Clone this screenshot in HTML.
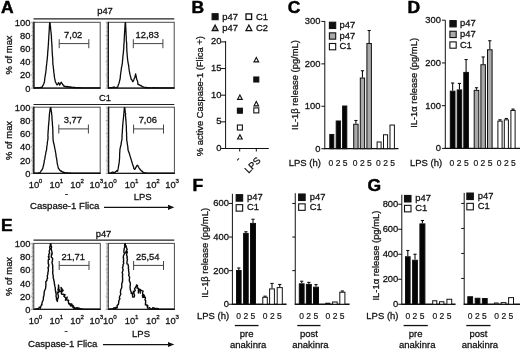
<!DOCTYPE html>
<html><head><meta charset="utf-8"><title>Figure</title>
<style>
html,body{margin:0;padding:0;background:#fff;}
body{width:520px;height:352px;overflow:hidden;font-family:"Liberation Sans",sans-serif;}
svg{display:block;will-change:transform;filter:blur(0.35px);}
svg text{font-family:"Liberation Sans",sans-serif;}
</style></head><body>
<svg width="520" height="352" viewBox="0 0 520 352">
<rect width="520" height="352" fill="#fff"/>
<rect x="33.9" y="22.3" width="66.30000000000001" height="65.8" fill="none" stroke="#4a4a4a" stroke-width="1"/>
<line x1="33.4" y1="88.1" x2="100.7" y2="88.1" stroke="#1a1a1a" stroke-width="1.1"/>
<line x1="33.9" y1="21.8" x2="33.9" y2="88.6" stroke="#111" stroke-width="1.25"/>
<line x1="31.099999999999998" y1="88.1" x2="33.9" y2="88.1" stroke="#333" stroke-width="0.5"/>
<line x1="31.9" y1="86.78399999999999" x2="33.9" y2="86.78399999999999" stroke="#333" stroke-width="0.5"/>
<line x1="31.9" y1="85.46799999999999" x2="33.9" y2="85.46799999999999" stroke="#333" stroke-width="0.5"/>
<line x1="31.9" y1="84.152" x2="33.9" y2="84.152" stroke="#333" stroke-width="0.5"/>
<line x1="31.9" y1="82.836" x2="33.9" y2="82.836" stroke="#333" stroke-width="0.5"/>
<line x1="31.9" y1="81.52" x2="33.9" y2="81.52" stroke="#333" stroke-width="0.5"/>
<line x1="31.9" y1="80.204" x2="33.9" y2="80.204" stroke="#333" stroke-width="0.5"/>
<line x1="31.9" y1="78.88799999999999" x2="33.9" y2="78.88799999999999" stroke="#333" stroke-width="0.5"/>
<line x1="31.9" y1="77.572" x2="33.9" y2="77.572" stroke="#333" stroke-width="0.5"/>
<line x1="31.9" y1="76.256" x2="33.9" y2="76.256" stroke="#333" stroke-width="0.5"/>
<line x1="31.099999999999998" y1="74.94" x2="33.9" y2="74.94" stroke="#333" stroke-width="0.5"/>
<line x1="31.9" y1="73.624" x2="33.9" y2="73.624" stroke="#333" stroke-width="0.5"/>
<line x1="31.9" y1="72.30799999999999" x2="33.9" y2="72.30799999999999" stroke="#333" stroke-width="0.5"/>
<line x1="31.9" y1="70.99199999999999" x2="33.9" y2="70.99199999999999" stroke="#333" stroke-width="0.5"/>
<line x1="31.9" y1="69.67599999999999" x2="33.9" y2="69.67599999999999" stroke="#333" stroke-width="0.5"/>
<line x1="31.9" y1="68.36" x2="33.9" y2="68.36" stroke="#333" stroke-width="0.5"/>
<line x1="31.9" y1="67.044" x2="33.9" y2="67.044" stroke="#333" stroke-width="0.5"/>
<line x1="31.9" y1="65.728" x2="33.9" y2="65.728" stroke="#333" stroke-width="0.5"/>
<line x1="31.9" y1="64.41199999999999" x2="33.9" y2="64.41199999999999" stroke="#333" stroke-width="0.5"/>
<line x1="31.9" y1="63.09599999999999" x2="33.9" y2="63.09599999999999" stroke="#333" stroke-width="0.5"/>
<line x1="31.099999999999998" y1="61.779999999999994" x2="33.9" y2="61.779999999999994" stroke="#333" stroke-width="0.5"/>
<line x1="31.9" y1="60.464" x2="33.9" y2="60.464" stroke="#333" stroke-width="0.5"/>
<line x1="31.9" y1="59.147999999999996" x2="33.9" y2="59.147999999999996" stroke="#333" stroke-width="0.5"/>
<line x1="31.9" y1="57.831999999999994" x2="33.9" y2="57.831999999999994" stroke="#333" stroke-width="0.5"/>
<line x1="31.9" y1="56.516" x2="33.9" y2="56.516" stroke="#333" stroke-width="0.5"/>
<line x1="31.9" y1="55.199999999999996" x2="33.9" y2="55.199999999999996" stroke="#333" stroke-width="0.5"/>
<line x1="31.9" y1="53.88399999999999" x2="33.9" y2="53.88399999999999" stroke="#333" stroke-width="0.5"/>
<line x1="31.9" y1="52.568" x2="33.9" y2="52.568" stroke="#333" stroke-width="0.5"/>
<line x1="31.9" y1="51.251999999999995" x2="33.9" y2="51.251999999999995" stroke="#333" stroke-width="0.5"/>
<line x1="31.9" y1="49.936" x2="33.9" y2="49.936" stroke="#333" stroke-width="0.5"/>
<line x1="31.099999999999998" y1="48.62" x2="33.9" y2="48.62" stroke="#333" stroke-width="0.5"/>
<line x1="31.9" y1="47.303999999999995" x2="33.9" y2="47.303999999999995" stroke="#333" stroke-width="0.5"/>
<line x1="31.9" y1="45.988" x2="33.9" y2="45.988" stroke="#333" stroke-width="0.5"/>
<line x1="31.9" y1="44.67199999999999" x2="33.9" y2="44.67199999999999" stroke="#333" stroke-width="0.5"/>
<line x1="31.9" y1="43.355999999999995" x2="33.9" y2="43.355999999999995" stroke="#333" stroke-width="0.5"/>
<line x1="31.9" y1="42.03999999999999" x2="33.9" y2="42.03999999999999" stroke="#333" stroke-width="0.5"/>
<line x1="31.9" y1="40.724" x2="33.9" y2="40.724" stroke="#333" stroke-width="0.5"/>
<line x1="31.9" y1="39.407999999999994" x2="33.9" y2="39.407999999999994" stroke="#333" stroke-width="0.5"/>
<line x1="31.9" y1="38.09199999999999" x2="33.9" y2="38.09199999999999" stroke="#333" stroke-width="0.5"/>
<line x1="31.9" y1="36.775999999999996" x2="33.9" y2="36.775999999999996" stroke="#333" stroke-width="0.5"/>
<line x1="31.099999999999998" y1="35.459999999999994" x2="33.9" y2="35.459999999999994" stroke="#333" stroke-width="0.5"/>
<line x1="31.9" y1="34.144" x2="33.9" y2="34.144" stroke="#333" stroke-width="0.5"/>
<line x1="31.9" y1="32.827999999999996" x2="33.9" y2="32.827999999999996" stroke="#333" stroke-width="0.5"/>
<line x1="31.9" y1="31.511999999999993" x2="33.9" y2="31.511999999999993" stroke="#333" stroke-width="0.5"/>
<line x1="31.9" y1="30.195999999999998" x2="33.9" y2="30.195999999999998" stroke="#333" stroke-width="0.5"/>
<line x1="31.9" y1="28.879999999999995" x2="33.9" y2="28.879999999999995" stroke="#333" stroke-width="0.5"/>
<line x1="31.9" y1="27.564" x2="33.9" y2="27.564" stroke="#333" stroke-width="0.5"/>
<line x1="31.9" y1="26.247999999999998" x2="33.9" y2="26.247999999999998" stroke="#333" stroke-width="0.5"/>
<line x1="31.9" y1="24.932000000000002" x2="33.9" y2="24.932000000000002" stroke="#333" stroke-width="0.5"/>
<line x1="31.9" y1="23.616" x2="33.9" y2="23.616" stroke="#333" stroke-width="0.5"/>
<line x1="31.099999999999998" y1="22.299999999999997" x2="33.9" y2="22.299999999999997" stroke="#333" stroke-width="0.5"/>
<polyline points="34.00,87.80 34.38,87.78 34.74,87.80 35.12,87.78 35.51,87.79 35.85,87.71 36.25,87.83 36.59,87.81 37.02,87.74 37.42,87.67 37.70,87.86 38.13,87.57 38.48,87.89 38.86,87.60 39.21,87.51 39.62,87.68 39.95,87.57 40.41,87.47 40.76,87.40 41.27,87.55 41.63,87.36 42.15,87.40 42.49,86.13 42.98,85.51 43.35,84.73 43.81,83.78 44.22,82.58 44.52,81.30 44.70,79.45 44.87,77.54 45.15,76.36 45.42,74.36 45.69,73.05 45.89,71.22 46.12,69.73 46.21,68.16 46.31,66.56 46.60,64.76 46.75,63.65 46.85,61.78 47.14,60.26 47.24,58.79 47.36,57.24 47.57,55.65 47.62,54.22 47.74,52.64 47.78,51.46 48.00,49.94 48.10,48.52 48.18,47.03 48.28,45.48 48.45,43.82 48.45,42.54 48.57,41.03 48.64,39.50 48.76,38.07 48.82,36.60 48.89,34.98 49.01,33.54 49.10,32.18 49.19,30.67 49.27,29.11 49.33,27.67 49.42,26.14 49.51,24.69 49.60,23.20 50.00,22.60 50.18,23.91 50.21,25.41 50.51,26.59 50.57,28.24 50.80,30.40 50.97,31.65 51.11,33.06 51.23,34.95 51.47,36.31 51.40,38.10 51.61,39.70 51.53,40.89 51.76,42.52 51.83,44.07 51.88,45.93 52.05,47.20 52.04,49.09 52.15,50.29 52.22,51.94 52.33,53.46 52.36,54.88 52.58,57.00 52.68,58.17 52.79,59.74 52.78,61.57 52.80,62.85 52.96,64.83 53.32,66.39 53.31,67.84 53.64,69.62 53.70,71.12 53.85,72.43 54.10,73.82 54.18,75.46 54.45,76.76 54.60,78.38 55.08,80.05 55.30,82.04 55.81,82.42 56.36,83.69 56.96,84.94 57.43,84.48 57.72,84.02 58.16,83.41 58.60,82.59 58.91,83.26 59.18,84.01 59.56,85.16 60.04,84.37 60.43,83.67 60.83,82.66 61.32,82.22 61.81,83.14 62.18,83.51 62.50,84.36 63.08,84.77 63.47,85.62 63.82,85.78 64.17,86.47 64.52,86.40 64.91,86.16 65.35,86.73 65.71,86.81 66.17,86.46 66.37,86.88 66.76,86.83 67.33,86.52 67.56,86.52 67.98,87.24 68.28,86.67 68.79,86.80 69.19,86.74 69.56,86.96 69.77,87.35 70.18,86.96 70.58,86.90 70.80,86.90 71.23,87.53 71.63,87.32 71.91,87.19 72.48,87.58 72.69,87.64 73.18,87.23 73.55,87.70 73.95,87.56 74.32,87.35 74.64,87.41 75.04,87.32 75.45,87.83 75.87,87.69 76.21,87.87 76.58,87.57 77.06,87.61 77.34,87.90 77.74,87.64 78.12,87.77 78.40,87.63 78.78,87.64 79.15,87.78 79.60,87.61 79.99,87.71 80.36,87.79 80.68,87.69 81.00,87.90 81.39,87.90 81.84,87.90 82.14,87.90 82.53,87.75 82.88,87.90 83.23,87.90 83.60,87.90 84.03,87.86 84.39,87.90 84.74,87.90 85.07,87.90 85.43,87.89 85.83,87.90 86.16,87.86 86.56,87.90 86.91,87.90 87.27,87.90 87.63,87.88 87.98,87.86 88.36,87.90 88.71,87.90 89.07,87.88 89.44,87.85 89.81,87.90 90.19,87.89 90.53,87.87 90.91,87.90 91.27,87.90 91.64,87.90 92.00,87.87 92.35,87.90 92.73,87.89 93.10,87.90 93.46,87.88 93.81,87.87 94.19,87.90 94.55,87.88 94.90,87.90 95.28,87.90 95.64,87.89 96.00,87.90 96.37,87.90 96.73,87.90 97.09,87.89 97.46,87.89 97.81,87.90 98.18,87.90 98.55,87.90 98.91,87.90 99.27,87.90 99.64,87.90 100.00,87.90" fill="none" stroke="#0a0a0a" stroke-width="1.3" stroke-linejoin="round"/>
<line x1="59.2" y1="43.6" x2="88.8" y2="43.6" stroke="#444" stroke-width="1"/>
<line x1="59.2" y1="39.2" x2="59.2" y2="48.2" stroke="#444" stroke-width="1"/>
<line x1="88.8" y1="39.2" x2="88.8" y2="48.2" stroke="#444" stroke-width="1"/>
<text transform="translate(73.2 38.0)" font-size="9.4" text-anchor="middle" fill="#111" stroke="#111" stroke-width="0.28" >7,02</text>
<text transform="translate(30.5 91.6)" font-size="9.4" text-anchor="end" fill="#111" stroke="#111" stroke-width="0.28" >0</text>
<text transform="translate(30.5 78.44)" font-size="9.4" text-anchor="end" fill="#111" stroke="#111" stroke-width="0.28" >20</text>
<text transform="translate(30.5 65.28)" font-size="9.4" text-anchor="end" fill="#111" stroke="#111" stroke-width="0.28" >40</text>
<text transform="translate(30.5 52.12)" font-size="9.4" text-anchor="end" fill="#111" stroke="#111" stroke-width="0.28" >60</text>
<text transform="translate(30.5 38.959999999999994)" font-size="9.4" text-anchor="end" fill="#111" stroke="#111" stroke-width="0.28" >80</text>
<text transform="translate(30.5 25.799999999999997)" font-size="9.4" text-anchor="end" fill="#111" stroke="#111" stroke-width="0.28" >100</text>
<rect x="108.4" y="22.3" width="65.79999999999998" height="65.8" fill="none" stroke="#4a4a4a" stroke-width="1"/>
<line x1="107.9" y1="88.1" x2="174.7" y2="88.1" stroke="#1a1a1a" stroke-width="1.1"/>
<line x1="108.4" y1="21.8" x2="108.4" y2="88.6" stroke="#111" stroke-width="1.25"/>
<line x1="105.60000000000001" y1="88.1" x2="108.4" y2="88.1" stroke="#333" stroke-width="0.5"/>
<line x1="106.4" y1="86.78399999999999" x2="108.4" y2="86.78399999999999" stroke="#333" stroke-width="0.5"/>
<line x1="106.4" y1="85.46799999999999" x2="108.4" y2="85.46799999999999" stroke="#333" stroke-width="0.5"/>
<line x1="106.4" y1="84.152" x2="108.4" y2="84.152" stroke="#333" stroke-width="0.5"/>
<line x1="106.4" y1="82.836" x2="108.4" y2="82.836" stroke="#333" stroke-width="0.5"/>
<line x1="106.4" y1="81.52" x2="108.4" y2="81.52" stroke="#333" stroke-width="0.5"/>
<line x1="106.4" y1="80.204" x2="108.4" y2="80.204" stroke="#333" stroke-width="0.5"/>
<line x1="106.4" y1="78.88799999999999" x2="108.4" y2="78.88799999999999" stroke="#333" stroke-width="0.5"/>
<line x1="106.4" y1="77.572" x2="108.4" y2="77.572" stroke="#333" stroke-width="0.5"/>
<line x1="106.4" y1="76.256" x2="108.4" y2="76.256" stroke="#333" stroke-width="0.5"/>
<line x1="105.60000000000001" y1="74.94" x2="108.4" y2="74.94" stroke="#333" stroke-width="0.5"/>
<line x1="106.4" y1="73.624" x2="108.4" y2="73.624" stroke="#333" stroke-width="0.5"/>
<line x1="106.4" y1="72.30799999999999" x2="108.4" y2="72.30799999999999" stroke="#333" stroke-width="0.5"/>
<line x1="106.4" y1="70.99199999999999" x2="108.4" y2="70.99199999999999" stroke="#333" stroke-width="0.5"/>
<line x1="106.4" y1="69.67599999999999" x2="108.4" y2="69.67599999999999" stroke="#333" stroke-width="0.5"/>
<line x1="106.4" y1="68.36" x2="108.4" y2="68.36" stroke="#333" stroke-width="0.5"/>
<line x1="106.4" y1="67.044" x2="108.4" y2="67.044" stroke="#333" stroke-width="0.5"/>
<line x1="106.4" y1="65.728" x2="108.4" y2="65.728" stroke="#333" stroke-width="0.5"/>
<line x1="106.4" y1="64.41199999999999" x2="108.4" y2="64.41199999999999" stroke="#333" stroke-width="0.5"/>
<line x1="106.4" y1="63.09599999999999" x2="108.4" y2="63.09599999999999" stroke="#333" stroke-width="0.5"/>
<line x1="105.60000000000001" y1="61.779999999999994" x2="108.4" y2="61.779999999999994" stroke="#333" stroke-width="0.5"/>
<line x1="106.4" y1="60.464" x2="108.4" y2="60.464" stroke="#333" stroke-width="0.5"/>
<line x1="106.4" y1="59.147999999999996" x2="108.4" y2="59.147999999999996" stroke="#333" stroke-width="0.5"/>
<line x1="106.4" y1="57.831999999999994" x2="108.4" y2="57.831999999999994" stroke="#333" stroke-width="0.5"/>
<line x1="106.4" y1="56.516" x2="108.4" y2="56.516" stroke="#333" stroke-width="0.5"/>
<line x1="106.4" y1="55.199999999999996" x2="108.4" y2="55.199999999999996" stroke="#333" stroke-width="0.5"/>
<line x1="106.4" y1="53.88399999999999" x2="108.4" y2="53.88399999999999" stroke="#333" stroke-width="0.5"/>
<line x1="106.4" y1="52.568" x2="108.4" y2="52.568" stroke="#333" stroke-width="0.5"/>
<line x1="106.4" y1="51.251999999999995" x2="108.4" y2="51.251999999999995" stroke="#333" stroke-width="0.5"/>
<line x1="106.4" y1="49.936" x2="108.4" y2="49.936" stroke="#333" stroke-width="0.5"/>
<line x1="105.60000000000001" y1="48.62" x2="108.4" y2="48.62" stroke="#333" stroke-width="0.5"/>
<line x1="106.4" y1="47.303999999999995" x2="108.4" y2="47.303999999999995" stroke="#333" stroke-width="0.5"/>
<line x1="106.4" y1="45.988" x2="108.4" y2="45.988" stroke="#333" stroke-width="0.5"/>
<line x1="106.4" y1="44.67199999999999" x2="108.4" y2="44.67199999999999" stroke="#333" stroke-width="0.5"/>
<line x1="106.4" y1="43.355999999999995" x2="108.4" y2="43.355999999999995" stroke="#333" stroke-width="0.5"/>
<line x1="106.4" y1="42.03999999999999" x2="108.4" y2="42.03999999999999" stroke="#333" stroke-width="0.5"/>
<line x1="106.4" y1="40.724" x2="108.4" y2="40.724" stroke="#333" stroke-width="0.5"/>
<line x1="106.4" y1="39.407999999999994" x2="108.4" y2="39.407999999999994" stroke="#333" stroke-width="0.5"/>
<line x1="106.4" y1="38.09199999999999" x2="108.4" y2="38.09199999999999" stroke="#333" stroke-width="0.5"/>
<line x1="106.4" y1="36.775999999999996" x2="108.4" y2="36.775999999999996" stroke="#333" stroke-width="0.5"/>
<line x1="105.60000000000001" y1="35.459999999999994" x2="108.4" y2="35.459999999999994" stroke="#333" stroke-width="0.5"/>
<line x1="106.4" y1="34.144" x2="108.4" y2="34.144" stroke="#333" stroke-width="0.5"/>
<line x1="106.4" y1="32.827999999999996" x2="108.4" y2="32.827999999999996" stroke="#333" stroke-width="0.5"/>
<line x1="106.4" y1="31.511999999999993" x2="108.4" y2="31.511999999999993" stroke="#333" stroke-width="0.5"/>
<line x1="106.4" y1="30.195999999999998" x2="108.4" y2="30.195999999999998" stroke="#333" stroke-width="0.5"/>
<line x1="106.4" y1="28.879999999999995" x2="108.4" y2="28.879999999999995" stroke="#333" stroke-width="0.5"/>
<line x1="106.4" y1="27.564" x2="108.4" y2="27.564" stroke="#333" stroke-width="0.5"/>
<line x1="106.4" y1="26.247999999999998" x2="108.4" y2="26.247999999999998" stroke="#333" stroke-width="0.5"/>
<line x1="106.4" y1="24.932000000000002" x2="108.4" y2="24.932000000000002" stroke="#333" stroke-width="0.5"/>
<line x1="106.4" y1="23.616" x2="108.4" y2="23.616" stroke="#333" stroke-width="0.5"/>
<line x1="105.60000000000001" y1="22.299999999999997" x2="108.4" y2="22.299999999999997" stroke="#333" stroke-width="0.5"/>
<polyline points="108.50,87.80 108.88,87.80 109.24,87.74 109.63,87.78 109.99,87.76 110.38,87.73 110.73,87.72 111.12,87.67 111.55,87.73 111.88,87.78 112.22,87.61 112.56,87.45 112.97,87.59 113.55,87.20 114.01,86.91 114.33,87.03 114.75,87.30 115.27,87.60 115.54,87.60 116.01,87.62 116.41,87.49 116.77,87.44 117.18,87.21 117.45,87.38 117.91,86.26 118.26,85.08 118.71,84.04 119.07,83.00 119.45,81.41 119.73,80.24 120.19,78.54 120.28,77.13 120.43,75.33 120.59,74.12 120.79,72.74 120.99,71.25 121.26,69.77 121.40,68.00 121.82,66.18 122.16,64.12 122.42,62.63 122.45,61.09 122.70,59.59 122.78,58.05 122.92,56.41 123.10,54.79 123.34,53.05 123.45,51.42 123.56,50.14 123.74,48.34 123.81,46.88 123.85,45.18 123.99,43.69 124.12,42.11 124.18,40.54 124.20,38.99 124.28,37.76 124.44,35.96 124.45,34.50 124.55,33.20 124.67,31.36 124.80,30.06 124.84,28.45 124.94,26.98 125.04,25.60 125.12,24.11 125.20,22.60 125.50,22.60 125.61,24.15 125.66,25.55 125.76,27.14 125.89,28.20 125.87,30.37 126.03,31.62 126.01,33.09 126.11,35.03 126.22,36.25 126.32,37.28 126.24,38.94 126.34,40.40 126.53,42.00 126.68,43.85 126.74,45.69 126.66,46.75 126.76,48.30 126.86,50.07 126.90,51.79 127.11,53.29 127.15,54.70 127.32,56.61 127.50,58.47 127.63,59.76 127.87,61.34 128.14,63.01 128.40,64.39 128.69,65.83 128.90,67.90 129.10,69.21 129.26,70.92 129.61,72.45 129.86,73.81 130.27,75.68 130.74,77.01 130.96,78.57 131.35,79.51 131.80,79.57 132.09,80.31 132.57,81.56 132.89,81.61 133.36,80.92 133.87,79.69 134.21,78.49 134.90,77.26 135.25,75.40 135.62,73.95 136.09,76.24 136.56,78.80 136.83,79.51 137.47,80.93 137.87,82.90 137.97,84.35 138.54,84.50 138.82,84.73 139.18,84.61 139.49,85.14 139.91,85.10 140.36,85.61 140.73,85.77 140.92,85.44 141.34,85.85 141.85,86.06 142.22,86.67 142.50,86.85 143.11,86.79 143.38,86.92 143.71,87.14 144.26,87.65 144.46,87.53 144.84,87.36 145.29,87.58 145.63,87.49 146.00,87.35 146.40,87.78 146.72,87.40 147.04,87.71 147.44,87.80 147.80,87.74 148.21,87.87 148.50,87.73 148.85,87.71 149.32,87.78 149.64,87.67 149.99,87.79 150.41,87.86 150.72,87.86 151.07,87.90 151.47,87.88 151.85,87.88 152.19,87.73 152.56,87.78 152.92,87.90 153.27,87.69 153.67,87.87 154.03,87.85 154.40,87.70 154.74,87.87 155.12,87.90 155.48,87.73 155.79,87.88 156.19,87.88 156.57,87.76 156.92,87.75 157.25,87.82 157.63,87.85 158.03,87.77 158.33,87.75 158.75,87.83 159.11,87.87 159.47,87.84 159.80,87.81 160.15,87.84 160.56,87.77 160.92,87.79 161.27,87.89 161.65,87.88 161.98,87.90 162.36,87.80 162.72,87.85 163.09,87.79 163.45,87.90 163.81,87.86 164.20,87.85 164.55,87.84 164.91,87.86 165.26,87.90 165.63,87.90 166.01,87.88 166.36,87.88 166.71,87.90 167.09,87.88 167.46,87.88 167.82,87.90 168.18,87.86 168.54,87.87 168.92,87.86 169.28,87.86 169.63,87.88 169.99,87.87 170.36,87.88 170.72,87.88 171.10,87.90 171.46,87.89 171.82,87.90 172.18,87.88 172.55,87.89 172.91,87.89 173.27,87.90 173.64,87.90 174.00,87.90" fill="none" stroke="#0a0a0a" stroke-width="1.3" stroke-linejoin="round"/>
<line x1="133.3" y1="43.6" x2="162.9" y2="43.6" stroke="#444" stroke-width="1"/>
<line x1="133.3" y1="39.2" x2="133.3" y2="48.2" stroke="#444" stroke-width="1"/>
<line x1="162.9" y1="39.2" x2="162.9" y2="48.2" stroke="#444" stroke-width="1"/>
<text transform="translate(147.3 38.0)" font-size="9.4" text-anchor="middle" fill="#111" stroke="#111" stroke-width="0.28" >12,83</text>
<rect x="33.8" y="107.2" width="66.4" height="66.2" fill="none" stroke="#4a4a4a" stroke-width="1"/>
<line x1="33.3" y1="173.4" x2="100.7" y2="173.4" stroke="#1a1a1a" stroke-width="1.1"/>
<line x1="33.8" y1="106.7" x2="33.8" y2="173.9" stroke="#111" stroke-width="1.25"/>
<line x1="30.999999999999996" y1="173.4" x2="33.8" y2="173.4" stroke="#333" stroke-width="0.5"/>
<line x1="31.799999999999997" y1="172.076" x2="33.8" y2="172.076" stroke="#333" stroke-width="0.5"/>
<line x1="31.799999999999997" y1="170.752" x2="33.8" y2="170.752" stroke="#333" stroke-width="0.5"/>
<line x1="31.799999999999997" y1="169.428" x2="33.8" y2="169.428" stroke="#333" stroke-width="0.5"/>
<line x1="31.799999999999997" y1="168.104" x2="33.8" y2="168.104" stroke="#333" stroke-width="0.5"/>
<line x1="31.799999999999997" y1="166.78" x2="33.8" y2="166.78" stroke="#333" stroke-width="0.5"/>
<line x1="31.799999999999997" y1="165.45600000000002" x2="33.8" y2="165.45600000000002" stroke="#333" stroke-width="0.5"/>
<line x1="31.799999999999997" y1="164.132" x2="33.8" y2="164.132" stroke="#333" stroke-width="0.5"/>
<line x1="31.799999999999997" y1="162.808" x2="33.8" y2="162.808" stroke="#333" stroke-width="0.5"/>
<line x1="31.799999999999997" y1="161.484" x2="33.8" y2="161.484" stroke="#333" stroke-width="0.5"/>
<line x1="30.999999999999996" y1="160.16" x2="33.8" y2="160.16" stroke="#333" stroke-width="0.5"/>
<line x1="31.799999999999997" y1="158.836" x2="33.8" y2="158.836" stroke="#333" stroke-width="0.5"/>
<line x1="31.799999999999997" y1="157.512" x2="33.8" y2="157.512" stroke="#333" stroke-width="0.5"/>
<line x1="31.799999999999997" y1="156.18800000000002" x2="33.8" y2="156.18800000000002" stroke="#333" stroke-width="0.5"/>
<line x1="31.799999999999997" y1="154.864" x2="33.8" y2="154.864" stroke="#333" stroke-width="0.5"/>
<line x1="31.799999999999997" y1="153.54000000000002" x2="33.8" y2="153.54000000000002" stroke="#333" stroke-width="0.5"/>
<line x1="31.799999999999997" y1="152.216" x2="33.8" y2="152.216" stroke="#333" stroke-width="0.5"/>
<line x1="31.799999999999997" y1="150.892" x2="33.8" y2="150.892" stroke="#333" stroke-width="0.5"/>
<line x1="31.799999999999997" y1="149.568" x2="33.8" y2="149.568" stroke="#333" stroke-width="0.5"/>
<line x1="31.799999999999997" y1="148.244" x2="33.8" y2="148.244" stroke="#333" stroke-width="0.5"/>
<line x1="30.999999999999996" y1="146.92000000000002" x2="33.8" y2="146.92000000000002" stroke="#333" stroke-width="0.5"/>
<line x1="31.799999999999997" y1="145.596" x2="33.8" y2="145.596" stroke="#333" stroke-width="0.5"/>
<line x1="31.799999999999997" y1="144.272" x2="33.8" y2="144.272" stroke="#333" stroke-width="0.5"/>
<line x1="31.799999999999997" y1="142.948" x2="33.8" y2="142.948" stroke="#333" stroke-width="0.5"/>
<line x1="31.799999999999997" y1="141.624" x2="33.8" y2="141.624" stroke="#333" stroke-width="0.5"/>
<line x1="31.799999999999997" y1="140.3" x2="33.8" y2="140.3" stroke="#333" stroke-width="0.5"/>
<line x1="31.799999999999997" y1="138.976" x2="33.8" y2="138.976" stroke="#333" stroke-width="0.5"/>
<line x1="31.799999999999997" y1="137.652" x2="33.8" y2="137.652" stroke="#333" stroke-width="0.5"/>
<line x1="31.799999999999997" y1="136.328" x2="33.8" y2="136.328" stroke="#333" stroke-width="0.5"/>
<line x1="31.799999999999997" y1="135.00400000000002" x2="33.8" y2="135.00400000000002" stroke="#333" stroke-width="0.5"/>
<line x1="30.999999999999996" y1="133.68" x2="33.8" y2="133.68" stroke="#333" stroke-width="0.5"/>
<line x1="31.799999999999997" y1="132.356" x2="33.8" y2="132.356" stroke="#333" stroke-width="0.5"/>
<line x1="31.799999999999997" y1="131.032" x2="33.8" y2="131.032" stroke="#333" stroke-width="0.5"/>
<line x1="31.799999999999997" y1="129.708" x2="33.8" y2="129.708" stroke="#333" stroke-width="0.5"/>
<line x1="31.799999999999997" y1="128.38400000000001" x2="33.8" y2="128.38400000000001" stroke="#333" stroke-width="0.5"/>
<line x1="31.799999999999997" y1="127.06" x2="33.8" y2="127.06" stroke="#333" stroke-width="0.5"/>
<line x1="31.799999999999997" y1="125.73599999999999" x2="33.8" y2="125.73599999999999" stroke="#333" stroke-width="0.5"/>
<line x1="31.799999999999997" y1="124.412" x2="33.8" y2="124.412" stroke="#333" stroke-width="0.5"/>
<line x1="31.799999999999997" y1="123.08800000000001" x2="33.8" y2="123.08800000000001" stroke="#333" stroke-width="0.5"/>
<line x1="31.799999999999997" y1="121.76400000000001" x2="33.8" y2="121.76400000000001" stroke="#333" stroke-width="0.5"/>
<line x1="30.999999999999996" y1="120.44" x2="33.8" y2="120.44" stroke="#333" stroke-width="0.5"/>
<line x1="31.799999999999997" y1="119.116" x2="33.8" y2="119.116" stroke="#333" stroke-width="0.5"/>
<line x1="31.799999999999997" y1="117.792" x2="33.8" y2="117.792" stroke="#333" stroke-width="0.5"/>
<line x1="31.799999999999997" y1="116.46800000000002" x2="33.8" y2="116.46800000000002" stroke="#333" stroke-width="0.5"/>
<line x1="31.799999999999997" y1="115.144" x2="33.8" y2="115.144" stroke="#333" stroke-width="0.5"/>
<line x1="31.799999999999997" y1="113.82000000000001" x2="33.8" y2="113.82000000000001" stroke="#333" stroke-width="0.5"/>
<line x1="31.799999999999997" y1="112.49600000000001" x2="33.8" y2="112.49600000000001" stroke="#333" stroke-width="0.5"/>
<line x1="31.799999999999997" y1="111.172" x2="33.8" y2="111.172" stroke="#333" stroke-width="0.5"/>
<line x1="31.799999999999997" y1="109.848" x2="33.8" y2="109.848" stroke="#333" stroke-width="0.5"/>
<line x1="31.799999999999997" y1="108.524" x2="33.8" y2="108.524" stroke="#333" stroke-width="0.5"/>
<line x1="30.999999999999996" y1="107.2" x2="33.8" y2="107.2" stroke="#333" stroke-width="0.5"/>
<polyline points="34.00,173.20 34.36,173.17 34.73,173.15 35.07,173.16 35.47,173.06 35.80,173.07 36.18,173.20 36.54,173.16 36.87,173.10 37.31,173.08 37.67,173.03 37.94,173.07 38.41,173.02 38.73,172.76 39.20,172.91 39.65,172.77 40.06,172.69 40.45,171.95 40.87,171.37 41.13,170.98 41.55,170.01 41.99,169.85 42.36,169.07 42.78,168.40 43.13,166.73 43.51,165.29 43.82,163.78 44.15,162.30 44.28,160.61 44.76,159.15 44.99,157.60 45.23,155.91 45.62,154.40 45.91,151.97 46.50,150.21 46.70,148.09 46.79,146.61 47.16,144.88 47.24,143.56 47.47,141.74 47.76,140.13 47.96,138.78 48.03,137.10 47.90,135.54 47.95,134.26 48.09,132.57 48.10,131.37 48.31,129.58 48.40,128.29 48.40,127.10 48.56,125.30 48.71,123.87 48.85,122.28 48.95,120.96 49.13,119.12 49.17,117.46 49.34,116.37 49.37,114.57 49.62,112.95 49.88,111.01 50.10,109.43 50.40,107.60 50.80,107.60 51.06,109.44 51.30,111.32 51.68,113.21 51.57,114.08 51.99,116.24 51.95,117.40 52.03,119.24 52.15,120.59 52.35,122.14 52.41,123.64 52.45,125.51 52.73,126.90 52.74,128.29 52.78,130.03 52.86,131.11 52.83,132.87 52.92,134.09 52.97,135.85 52.96,137.31 53.09,138.45 53.09,140.23 53.33,141.34 53.66,143.02 54.11,144.68 54.30,145.81 54.69,147.68 54.94,149.18 55.24,150.28 55.55,152.18 55.82,153.57 56.05,155.29 56.23,157.25 56.63,158.37 56.87,160.56 57.09,161.96 57.29,163.86 57.77,165.35 58.05,166.90 58.37,168.27 58.73,168.72 59.20,169.41 59.56,170.03 60.12,170.56 60.58,171.05 60.93,171.28 61.39,170.96 61.70,171.29 62.17,171.84 62.69,171.91 62.96,172.28 63.46,172.13 63.81,172.38 64.04,172.40 64.56,172.62 64.92,172.49 65.29,173.06 65.50,173.09 66.05,172.99 66.31,172.68 66.73,172.83 67.10,172.93 67.39,173.13 67.79,172.79 68.16,172.84 68.67,173.20 68.99,172.88 69.34,173.00 69.76,173.03 70.10,173.15 70.47,173.01 70.88,173.01 71.23,173.20 71.59,173.05 72.01,173.16 72.35,173.20 72.74,173.20 73.08,173.18 73.47,173.20 73.84,173.18 74.16,173.20 74.56,173.20 74.90,173.10 75.31,173.19 75.62,173.20 76.03,173.20 76.36,173.16 76.75,173.12 77.12,173.20 77.47,173.20 77.82,173.20 78.19,173.13 78.52,173.11 78.87,173.20 79.24,173.14 79.61,173.20 80.03,173.13 80.39,173.15 80.75,173.20 81.10,173.20 81.42,173.20 81.82,173.20 82.16,173.20 82.57,173.20 82.90,173.16 83.29,173.20 83.62,173.20 84.01,173.20 84.36,173.20 84.72,173.20 85.09,173.20 85.45,173.18 85.81,173.20 86.16,173.20 86.56,173.20 86.91,173.20 87.28,173.20 87.62,173.20 88.01,173.20 88.36,173.20 88.74,173.20 89.08,173.20 89.46,173.20 89.81,173.20 90.20,173.20 90.55,173.20 90.92,173.20 91.27,173.20 91.62,173.20 92.00,173.20 92.36,173.20 92.73,173.20 93.10,173.20 93.46,173.20 93.83,173.20 94.18,173.20 94.55,173.20 94.91,173.20 95.28,173.20 95.63,173.20 96.00,173.20 96.37,173.20 96.72,173.20 97.09,173.20 97.46,173.20 97.82,173.20 98.18,173.20 98.55,173.20 98.91,173.20 99.27,173.20 99.64,173.20 100.00,173.20" fill="none" stroke="#0a0a0a" stroke-width="1.3" stroke-linejoin="round"/>
<line x1="58.8" y1="128.9" x2="88.4" y2="128.9" stroke="#444" stroke-width="1"/>
<line x1="58.8" y1="124.5" x2="58.8" y2="133.5" stroke="#444" stroke-width="1"/>
<line x1="88.4" y1="124.5" x2="88.4" y2="133.5" stroke="#444" stroke-width="1"/>
<text transform="translate(72.8 123.30000000000001)" font-size="9.4" text-anchor="middle" fill="#111" stroke="#111" stroke-width="0.28" >3,77</text>
<text transform="translate(30.4 176.9)" font-size="9.4" text-anchor="end" fill="#111" stroke="#111" stroke-width="0.28" >0</text>
<text transform="translate(30.4 163.66)" font-size="9.4" text-anchor="end" fill="#111" stroke="#111" stroke-width="0.28" >20</text>
<text transform="translate(30.4 150.42000000000002)" font-size="9.4" text-anchor="end" fill="#111" stroke="#111" stroke-width="0.28" >40</text>
<text transform="translate(30.4 137.18)" font-size="9.4" text-anchor="end" fill="#111" stroke="#111" stroke-width="0.28" >60</text>
<text transform="translate(30.4 123.94)" font-size="9.4" text-anchor="end" fill="#111" stroke="#111" stroke-width="0.28" >80</text>
<text transform="translate(30.4 110.7)" font-size="9.4" text-anchor="end" fill="#111" stroke="#111" stroke-width="0.28" >100</text>
<text x="28.7" y="187.8" font-size="9.4" fill="#111" stroke="#111" stroke-width="0.28">10<tspan dy="-4.5" dx="-0.3" font-size="6.2">0</tspan></text>
<text x="49.6" y="187.8" font-size="9.4" fill="#111" stroke="#111" stroke-width="0.28">10<tspan dy="-4.5" dx="-0.3" font-size="6.2">1</tspan></text>
<text x="70.3" y="187.8" font-size="9.4" fill="#111" stroke="#111" stroke-width="0.28">10<tspan dy="-4.5" dx="-0.3" font-size="6.2">2</tspan></text>
<text x="89.5" y="187.8" font-size="9.4" fill="#111" stroke="#111" stroke-width="0.28">10<tspan dy="-4.5" dx="-0.3" font-size="6.2">3</tspan></text>
<rect x="108.6" y="107.2" width="65.80000000000001" height="66.2" fill="none" stroke="#4a4a4a" stroke-width="1"/>
<line x1="108.1" y1="173.4" x2="174.9" y2="173.4" stroke="#1a1a1a" stroke-width="1.1"/>
<line x1="108.6" y1="106.7" x2="108.6" y2="173.9" stroke="#111" stroke-width="1.25"/>
<line x1="105.8" y1="173.4" x2="108.6" y2="173.4" stroke="#333" stroke-width="0.5"/>
<line x1="106.6" y1="172.076" x2="108.6" y2="172.076" stroke="#333" stroke-width="0.5"/>
<line x1="106.6" y1="170.752" x2="108.6" y2="170.752" stroke="#333" stroke-width="0.5"/>
<line x1="106.6" y1="169.428" x2="108.6" y2="169.428" stroke="#333" stroke-width="0.5"/>
<line x1="106.6" y1="168.104" x2="108.6" y2="168.104" stroke="#333" stroke-width="0.5"/>
<line x1="106.6" y1="166.78" x2="108.6" y2="166.78" stroke="#333" stroke-width="0.5"/>
<line x1="106.6" y1="165.45600000000002" x2="108.6" y2="165.45600000000002" stroke="#333" stroke-width="0.5"/>
<line x1="106.6" y1="164.132" x2="108.6" y2="164.132" stroke="#333" stroke-width="0.5"/>
<line x1="106.6" y1="162.808" x2="108.6" y2="162.808" stroke="#333" stroke-width="0.5"/>
<line x1="106.6" y1="161.484" x2="108.6" y2="161.484" stroke="#333" stroke-width="0.5"/>
<line x1="105.8" y1="160.16" x2="108.6" y2="160.16" stroke="#333" stroke-width="0.5"/>
<line x1="106.6" y1="158.836" x2="108.6" y2="158.836" stroke="#333" stroke-width="0.5"/>
<line x1="106.6" y1="157.512" x2="108.6" y2="157.512" stroke="#333" stroke-width="0.5"/>
<line x1="106.6" y1="156.18800000000002" x2="108.6" y2="156.18800000000002" stroke="#333" stroke-width="0.5"/>
<line x1="106.6" y1="154.864" x2="108.6" y2="154.864" stroke="#333" stroke-width="0.5"/>
<line x1="106.6" y1="153.54000000000002" x2="108.6" y2="153.54000000000002" stroke="#333" stroke-width="0.5"/>
<line x1="106.6" y1="152.216" x2="108.6" y2="152.216" stroke="#333" stroke-width="0.5"/>
<line x1="106.6" y1="150.892" x2="108.6" y2="150.892" stroke="#333" stroke-width="0.5"/>
<line x1="106.6" y1="149.568" x2="108.6" y2="149.568" stroke="#333" stroke-width="0.5"/>
<line x1="106.6" y1="148.244" x2="108.6" y2="148.244" stroke="#333" stroke-width="0.5"/>
<line x1="105.8" y1="146.92000000000002" x2="108.6" y2="146.92000000000002" stroke="#333" stroke-width="0.5"/>
<line x1="106.6" y1="145.596" x2="108.6" y2="145.596" stroke="#333" stroke-width="0.5"/>
<line x1="106.6" y1="144.272" x2="108.6" y2="144.272" stroke="#333" stroke-width="0.5"/>
<line x1="106.6" y1="142.948" x2="108.6" y2="142.948" stroke="#333" stroke-width="0.5"/>
<line x1="106.6" y1="141.624" x2="108.6" y2="141.624" stroke="#333" stroke-width="0.5"/>
<line x1="106.6" y1="140.3" x2="108.6" y2="140.3" stroke="#333" stroke-width="0.5"/>
<line x1="106.6" y1="138.976" x2="108.6" y2="138.976" stroke="#333" stroke-width="0.5"/>
<line x1="106.6" y1="137.652" x2="108.6" y2="137.652" stroke="#333" stroke-width="0.5"/>
<line x1="106.6" y1="136.328" x2="108.6" y2="136.328" stroke="#333" stroke-width="0.5"/>
<line x1="106.6" y1="135.00400000000002" x2="108.6" y2="135.00400000000002" stroke="#333" stroke-width="0.5"/>
<line x1="105.8" y1="133.68" x2="108.6" y2="133.68" stroke="#333" stroke-width="0.5"/>
<line x1="106.6" y1="132.356" x2="108.6" y2="132.356" stroke="#333" stroke-width="0.5"/>
<line x1="106.6" y1="131.032" x2="108.6" y2="131.032" stroke="#333" stroke-width="0.5"/>
<line x1="106.6" y1="129.708" x2="108.6" y2="129.708" stroke="#333" stroke-width="0.5"/>
<line x1="106.6" y1="128.38400000000001" x2="108.6" y2="128.38400000000001" stroke="#333" stroke-width="0.5"/>
<line x1="106.6" y1="127.06" x2="108.6" y2="127.06" stroke="#333" stroke-width="0.5"/>
<line x1="106.6" y1="125.73599999999999" x2="108.6" y2="125.73599999999999" stroke="#333" stroke-width="0.5"/>
<line x1="106.6" y1="124.412" x2="108.6" y2="124.412" stroke="#333" stroke-width="0.5"/>
<line x1="106.6" y1="123.08800000000001" x2="108.6" y2="123.08800000000001" stroke="#333" stroke-width="0.5"/>
<line x1="106.6" y1="121.76400000000001" x2="108.6" y2="121.76400000000001" stroke="#333" stroke-width="0.5"/>
<line x1="105.8" y1="120.44" x2="108.6" y2="120.44" stroke="#333" stroke-width="0.5"/>
<line x1="106.6" y1="119.116" x2="108.6" y2="119.116" stroke="#333" stroke-width="0.5"/>
<line x1="106.6" y1="117.792" x2="108.6" y2="117.792" stroke="#333" stroke-width="0.5"/>
<line x1="106.6" y1="116.46800000000002" x2="108.6" y2="116.46800000000002" stroke="#333" stroke-width="0.5"/>
<line x1="106.6" y1="115.144" x2="108.6" y2="115.144" stroke="#333" stroke-width="0.5"/>
<line x1="106.6" y1="113.82000000000001" x2="108.6" y2="113.82000000000001" stroke="#333" stroke-width="0.5"/>
<line x1="106.6" y1="112.49600000000001" x2="108.6" y2="112.49600000000001" stroke="#333" stroke-width="0.5"/>
<line x1="106.6" y1="111.172" x2="108.6" y2="111.172" stroke="#333" stroke-width="0.5"/>
<line x1="106.6" y1="109.848" x2="108.6" y2="109.848" stroke="#333" stroke-width="0.5"/>
<line x1="106.6" y1="108.524" x2="108.6" y2="108.524" stroke="#333" stroke-width="0.5"/>
<line x1="105.8" y1="107.2" x2="108.6" y2="107.2" stroke="#333" stroke-width="0.5"/>
<polyline points="108.60,173.20 108.91,173.15 109.32,173.12 109.74,173.01 110.19,173.18 110.55,173.12 110.97,173.01 111.31,172.60 111.82,172.36 112.18,172.43 112.44,172.18 112.92,172.01 113.36,172.36 113.63,172.54 114.13,172.53 114.45,172.60 114.82,172.26 115.33,172.14 115.62,171.62 116.05,171.48 116.49,171.15 116.78,170.61 117.19,171.05 117.57,171.26 117.82,170.06 118.23,168.13 118.51,166.49 118.77,164.83 119.04,163.37 119.34,161.25 119.42,159.77 119.59,157.98 119.63,156.35 119.60,155.09 119.70,152.97 119.85,151.77 119.86,149.84 120.21,148.14 120.57,146.39 120.95,145.24 121.26,143.47 121.44,141.38 121.86,140.28 121.99,138.45 122.06,137.07 122.04,135.39 122.13,133.97 122.38,132.44 122.32,130.92 122.45,129.29 122.58,128.12 122.64,126.41 122.79,125.19 122.88,123.44 123.03,121.95 123.16,120.70 123.33,119.08 123.51,117.69 123.60,116.22 123.73,114.90 123.87,113.47 124.00,111.92 124.13,110.47 124.27,109.04 124.40,107.60 124.80,107.60 124.97,109.30 125.10,110.52 125.23,112.17 125.66,113.68 125.42,115.17 125.72,117.58 125.77,119.18 125.95,120.63 126.07,122.08 126.00,123.42 126.28,124.83 126.35,126.74 126.35,127.90 126.41,129.68 126.45,131.19 126.54,132.59 126.65,133.86 126.53,135.77 126.78,137.28 126.64,138.60 126.72,140.24 127.07,141.95 127.20,143.07 127.51,145.08 127.82,146.81 127.86,148.16 128.10,150.25 128.59,151.63 129.19,152.99 129.61,154.43 129.96,155.85 130.40,157.14 130.92,158.70 131.29,159.86 131.60,161.02 132.06,162.54 132.46,163.89 132.77,164.63 133.17,166.19 133.60,166.92 133.81,168.60 134.24,168.76 134.58,169.28 135.00,169.19 135.31,168.84 135.91,167.11 136.30,166.89 136.78,165.91 136.90,165.67 137.31,165.21 137.90,165.60 138.30,166.56 138.73,167.17 138.88,167.70 139.35,168.53 139.93,169.09 140.05,169.75 140.61,169.93 141.06,170.59 141.29,170.89 141.89,171.01 142.27,171.40 142.63,172.13 143.03,172.22 143.49,172.28 143.89,172.68 144.26,172.63 144.59,172.95 144.88,172.81 145.30,173.01 145.65,173.00 146.04,172.79 146.43,173.14 146.84,173.20 147.22,173.14 147.57,173.19 148.05,173.17 148.38,173.11 148.70,173.15 149.04,173.07 149.48,173.20 149.84,173.20 150.13,173.20 150.53,173.20 150.93,173.20 151.29,173.20 151.62,173.11 151.99,173.20 152.36,173.20 152.73,173.17 153.06,173.20 153.43,173.20 153.76,173.18 154.15,173.18 154.53,173.20 154.85,173.20 155.21,173.20 155.55,173.20 155.95,173.16 156.31,173.20 156.70,173.20 157.00,173.20 157.42,173.15 157.78,173.20 158.10,173.20 158.46,173.17 158.86,173.19 159.21,173.20 159.54,173.19 159.94,173.20 160.29,173.19 160.64,173.20 160.99,173.20 161.34,173.20 161.70,173.20 162.07,173.20 162.47,173.20 162.82,173.20 163.18,173.20 163.55,173.20 163.90,173.20 164.26,173.20 164.61,173.20 164.96,173.20 165.33,173.20 165.68,173.20 166.05,173.20 166.42,173.20 166.77,173.20 167.14,173.20 167.51,173.20 167.87,173.20 168.21,173.20 168.59,173.20 168.95,173.20 169.31,173.20 169.67,173.20 170.03,173.20 170.40,173.20 170.75,173.20 171.11,173.20 171.47,173.20 171.83,173.20 172.20,173.20 172.55,173.20 172.92,173.20 173.28,173.20 173.64,173.20 174.00,173.20" fill="none" stroke="#0a0a0a" stroke-width="1.3" stroke-linejoin="round"/>
<line x1="133.6" y1="128.9" x2="163.5" y2="128.9" stroke="#444" stroke-width="1"/>
<line x1="133.6" y1="124.5" x2="133.6" y2="133.5" stroke="#444" stroke-width="1"/>
<line x1="163.5" y1="124.5" x2="163.5" y2="133.5" stroke="#444" stroke-width="1"/>
<text transform="translate(147.75 123.30000000000001)" font-size="9.4" text-anchor="middle" fill="#111" stroke="#111" stroke-width="0.28" >7,06</text>
<text x="103.1" y="187.8" font-size="9.4" fill="#111" stroke="#111" stroke-width="0.28">10<tspan dy="-4.5" dx="-0.3" font-size="6.2">0</tspan></text>
<text x="124.8" y="187.8" font-size="9.4" fill="#111" stroke="#111" stroke-width="0.28">10<tspan dy="-4.5" dx="-0.3" font-size="6.2">1</tspan></text>
<text x="146.0" y="187.8" font-size="9.4" fill="#111" stroke="#111" stroke-width="0.28">10<tspan dy="-4.5" dx="-0.3" font-size="6.2">2</tspan></text>
<text x="165.3" y="187.8" font-size="9.4" fill="#111" stroke="#111" stroke-width="0.28">10<tspan dy="-4.5" dx="-0.3" font-size="6.2">3</tspan></text>
<rect x="33.8" y="243.4" width="66.5" height="65.99999999999997" fill="none" stroke="#4a4a4a" stroke-width="1"/>
<line x1="33.3" y1="309.4" x2="100.8" y2="309.4" stroke="#1a1a1a" stroke-width="1.1"/>
<line x1="30.999999999999996" y1="309.4" x2="33.8" y2="309.4" stroke="#333" stroke-width="0.5"/>
<line x1="31.799999999999997" y1="308.08" x2="33.8" y2="308.08" stroke="#333" stroke-width="0.5"/>
<line x1="31.799999999999997" y1="306.76" x2="33.8" y2="306.76" stroke="#333" stroke-width="0.5"/>
<line x1="31.799999999999997" y1="305.44" x2="33.8" y2="305.44" stroke="#333" stroke-width="0.5"/>
<line x1="31.799999999999997" y1="304.12" x2="33.8" y2="304.12" stroke="#333" stroke-width="0.5"/>
<line x1="31.799999999999997" y1="302.79999999999995" x2="33.8" y2="302.79999999999995" stroke="#333" stroke-width="0.5"/>
<line x1="31.799999999999997" y1="301.47999999999996" x2="33.8" y2="301.47999999999996" stroke="#333" stroke-width="0.5"/>
<line x1="31.799999999999997" y1="300.15999999999997" x2="33.8" y2="300.15999999999997" stroke="#333" stroke-width="0.5"/>
<line x1="31.799999999999997" y1="298.84" x2="33.8" y2="298.84" stroke="#333" stroke-width="0.5"/>
<line x1="31.799999999999997" y1="297.52" x2="33.8" y2="297.52" stroke="#333" stroke-width="0.5"/>
<line x1="30.999999999999996" y1="296.2" x2="33.8" y2="296.2" stroke="#333" stroke-width="0.5"/>
<line x1="31.799999999999997" y1="294.88" x2="33.8" y2="294.88" stroke="#333" stroke-width="0.5"/>
<line x1="31.799999999999997" y1="293.56" x2="33.8" y2="293.56" stroke="#333" stroke-width="0.5"/>
<line x1="31.799999999999997" y1="292.24" x2="33.8" y2="292.24" stroke="#333" stroke-width="0.5"/>
<line x1="31.799999999999997" y1="290.91999999999996" x2="33.8" y2="290.91999999999996" stroke="#333" stroke-width="0.5"/>
<line x1="31.799999999999997" y1="289.59999999999997" x2="33.8" y2="289.59999999999997" stroke="#333" stroke-width="0.5"/>
<line x1="31.799999999999997" y1="288.28" x2="33.8" y2="288.28" stroke="#333" stroke-width="0.5"/>
<line x1="31.799999999999997" y1="286.96" x2="33.8" y2="286.96" stroke="#333" stroke-width="0.5"/>
<line x1="31.799999999999997" y1="285.64" x2="33.8" y2="285.64" stroke="#333" stroke-width="0.5"/>
<line x1="31.799999999999997" y1="284.32" x2="33.8" y2="284.32" stroke="#333" stroke-width="0.5"/>
<line x1="30.999999999999996" y1="283.0" x2="33.8" y2="283.0" stroke="#333" stroke-width="0.5"/>
<line x1="31.799999999999997" y1="281.68" x2="33.8" y2="281.68" stroke="#333" stroke-width="0.5"/>
<line x1="31.799999999999997" y1="280.36" x2="33.8" y2="280.36" stroke="#333" stroke-width="0.5"/>
<line x1="31.799999999999997" y1="279.03999999999996" x2="33.8" y2="279.03999999999996" stroke="#333" stroke-width="0.5"/>
<line x1="31.799999999999997" y1="277.71999999999997" x2="33.8" y2="277.71999999999997" stroke="#333" stroke-width="0.5"/>
<line x1="31.799999999999997" y1="276.4" x2="33.8" y2="276.4" stroke="#333" stroke-width="0.5"/>
<line x1="31.799999999999997" y1="275.08" x2="33.8" y2="275.08" stroke="#333" stroke-width="0.5"/>
<line x1="31.799999999999997" y1="273.76" x2="33.8" y2="273.76" stroke="#333" stroke-width="0.5"/>
<line x1="31.799999999999997" y1="272.44" x2="33.8" y2="272.44" stroke="#333" stroke-width="0.5"/>
<line x1="31.799999999999997" y1="271.12" x2="33.8" y2="271.12" stroke="#333" stroke-width="0.5"/>
<line x1="30.999999999999996" y1="269.8" x2="33.8" y2="269.8" stroke="#333" stroke-width="0.5"/>
<line x1="31.799999999999997" y1="268.48" x2="33.8" y2="268.48" stroke="#333" stroke-width="0.5"/>
<line x1="31.799999999999997" y1="267.15999999999997" x2="33.8" y2="267.15999999999997" stroke="#333" stroke-width="0.5"/>
<line x1="31.799999999999997" y1="265.84" x2="33.8" y2="265.84" stroke="#333" stroke-width="0.5"/>
<line x1="31.799999999999997" y1="264.52" x2="33.8" y2="264.52" stroke="#333" stroke-width="0.5"/>
<line x1="31.799999999999997" y1="263.2" x2="33.8" y2="263.2" stroke="#333" stroke-width="0.5"/>
<line x1="31.799999999999997" y1="261.88" x2="33.8" y2="261.88" stroke="#333" stroke-width="0.5"/>
<line x1="31.799999999999997" y1="260.56" x2="33.8" y2="260.56" stroke="#333" stroke-width="0.5"/>
<line x1="31.799999999999997" y1="259.24" x2="33.8" y2="259.24" stroke="#333" stroke-width="0.5"/>
<line x1="31.799999999999997" y1="257.92" x2="33.8" y2="257.92" stroke="#333" stroke-width="0.5"/>
<line x1="30.999999999999996" y1="256.6" x2="33.8" y2="256.6" stroke="#333" stroke-width="0.5"/>
<line x1="31.799999999999997" y1="255.28" x2="33.8" y2="255.28" stroke="#333" stroke-width="0.5"/>
<line x1="31.799999999999997" y1="253.96" x2="33.8" y2="253.96" stroke="#333" stroke-width="0.5"/>
<line x1="31.799999999999997" y1="252.64000000000001" x2="33.8" y2="252.64000000000001" stroke="#333" stroke-width="0.5"/>
<line x1="31.799999999999997" y1="251.32" x2="33.8" y2="251.32" stroke="#333" stroke-width="0.5"/>
<line x1="31.799999999999997" y1="250.0" x2="33.8" y2="250.0" stroke="#333" stroke-width="0.5"/>
<line x1="31.799999999999997" y1="248.68" x2="33.8" y2="248.68" stroke="#333" stroke-width="0.5"/>
<line x1="31.799999999999997" y1="247.36" x2="33.8" y2="247.36" stroke="#333" stroke-width="0.5"/>
<line x1="31.799999999999997" y1="246.04000000000002" x2="33.8" y2="246.04000000000002" stroke="#333" stroke-width="0.5"/>
<line x1="31.799999999999997" y1="244.72" x2="33.8" y2="244.72" stroke="#333" stroke-width="0.5"/>
<line x1="30.999999999999996" y1="243.4" x2="33.8" y2="243.4" stroke="#333" stroke-width="0.5"/>
<polyline points="34.00,309.20 34.37,309.17 34.74,309.15 35.12,309.12 35.45,308.99 35.83,309.10 36.14,309.07 36.51,308.94 36.92,308.92 37.22,308.71 37.72,308.76 37.93,308.91 38.26,308.70 38.60,308.31 39.45,307.28 39.36,307.16 40.37,308.17 40.86,306.21 40.98,305.94 41.64,304.63 42.06,304.79 41.80,304.44 42.07,302.76 42.37,301.66 43.14,300.28 43.44,298.07 43.31,297.01 43.83,296.10 44.18,293.42 44.11,292.34 44.43,291.06 45.59,288.55 45.88,285.13 45.98,284.09 45.75,281.78 46.95,280.43 47.05,278.79 47.54,278.44 47.26,275.72 47.81,274.49 47.92,272.17 48.17,271.89 48.40,268.90 47.90,267.44 48.64,266.88 48.79,264.80 48.26,263.64 48.25,261.63 48.30,259.62 49.40,259.41 48.34,256.73 49.04,257.15 48.75,254.27 49.66,253.24 49.19,251.38 50.02,248.79 49.64,247.45 49.62,247.26 50.32,245.36 50.40,243.70 50.80,243.70 51.05,245.19 50.98,245.92 51.62,247.18 51.20,248.85 52.19,253.04 51.42,254.39 52.08,254.10 51.37,255.65 51.27,257.00 52.71,258.52 52.26,261.56 52.00,262.00 51.99,262.66 52.77,265.72 52.74,266.37 52.69,268.80 52.83,270.12 52.83,271.05 52.65,272.44 52.95,274.99 53.29,275.59 53.15,277.80 53.38,278.02 53.78,280.00 54.20,281.93 54.44,283.79 54.53,284.70 55.00,286.98 55.28,287.70 55.34,290.29 55.87,292.05 55.63,292.69 56.20,293.53 56.04,296.62 56.54,297.68 56.44,299.56 57.39,301.46 57.42,299.59 58.21,297.83 58.41,296.21 57.44,292.07 58.73,292.27 58.99,289.93 57.87,289.98 58.47,287.90 58.51,284.98 58.82,287.42 58.65,288.37 59.84,291.31 60.84,291.67 62.14,289.21 61.02,287.48 61.46,290.10 63.16,290.31 61.21,292.81 61.76,294.37 62.87,294.25 65.10,294.69 63.86,296.23 64.97,297.13 64.05,295.85 65.67,297.96 67.08,299.96 65.87,298.65 65.39,300.25 67.16,297.07 66.54,299.90 68.73,300.56 68.04,300.07 68.12,300.04 68.72,303.77 70.34,304.30 69.26,303.39 70.15,305.33 70.15,303.58 70.87,306.08 71.21,304.07 71.83,304.03 71.63,305.53 72.86,306.96 72.75,305.28 73.72,306.16 73.10,307.66 73.37,306.50 73.95,308.46 74.58,307.68 75.12,307.92 74.90,308.30 75.51,308.48 75.94,308.14 76.55,307.82 76.75,308.33 77.37,308.92 77.41,307.67 78.43,308.48 78.46,309.20 79.03,307.94 79.24,308.62 79.65,309.04 80.21,308.80 80.25,308.75 80.53,309.20 81.24,308.80 81.61,308.69 81.81,309.20 82.31,309.02 82.50,309.20 82.98,309.19 83.30,309.20 83.73,309.06 83.98,309.20 84.52,309.11 84.86,309.20 85.24,309.05 85.66,309.20 85.84,309.20 86.25,309.20 86.75,309.20 86.98,309.20 87.48,309.20 87.80,309.17 88.10,309.20 88.45,309.20 88.87,309.19 89.20,309.19 89.66,309.20 89.96,309.20 90.35,309.20 90.74,309.20 91.10,309.20 91.50,309.20 91.86,309.20 92.26,309.20 92.60,309.20 92.97,309.20 93.35,309.20 93.68,309.20 94.07,309.20 94.42,309.20 94.82,309.20 95.19,309.20 95.54,309.20 95.91,309.20 96.30,309.20 96.68,309.20 97.04,309.20 97.40,309.20 97.78,309.20 98.14,309.20 98.52,309.20 98.88,309.20 99.26,309.20 99.63,309.20 100.00,309.20" fill="none" stroke="#0a0a0a" stroke-width="1.4" stroke-linejoin="round"/>
<line x1="59.2" y1="265.4" x2="89.0" y2="265.4" stroke="#444" stroke-width="1"/>
<line x1="59.2" y1="261.0" x2="59.2" y2="270.0" stroke="#444" stroke-width="1"/>
<line x1="89.0" y1="261.0" x2="89.0" y2="270.0" stroke="#444" stroke-width="1"/>
<text transform="translate(73.3 259.79999999999995)" font-size="9.4" text-anchor="middle" fill="#111" stroke="#111" stroke-width="0.28" >21,71</text>
<text transform="translate(30.4 312.9)" font-size="9.4" text-anchor="end" fill="#111" stroke="#111" stroke-width="0.28" >0</text>
<text transform="translate(30.4 299.7)" font-size="9.4" text-anchor="end" fill="#111" stroke="#111" stroke-width="0.28" >20</text>
<text transform="translate(30.4 286.5)" font-size="9.4" text-anchor="end" fill="#111" stroke="#111" stroke-width="0.28" >40</text>
<text transform="translate(30.4 273.3)" font-size="9.4" text-anchor="end" fill="#111" stroke="#111" stroke-width="0.28" >60</text>
<text transform="translate(30.4 260.1)" font-size="9.4" text-anchor="end" fill="#111" stroke="#111" stroke-width="0.28" >80</text>
<text transform="translate(30.4 246.9)" font-size="9.4" text-anchor="end" fill="#111" stroke="#111" stroke-width="0.28" >100</text>
<text x="28.7" y="323.79999999999995" font-size="9.4" fill="#111" stroke="#111" stroke-width="0.28">10<tspan dy="-4.5" dx="-0.3" font-size="6.2">0</tspan></text>
<text x="49.6" y="323.79999999999995" font-size="9.4" fill="#111" stroke="#111" stroke-width="0.28">10<tspan dy="-4.5" dx="-0.3" font-size="6.2">1</tspan></text>
<text x="70.3" y="323.79999999999995" font-size="9.4" fill="#111" stroke="#111" stroke-width="0.28">10<tspan dy="-4.5" dx="-0.3" font-size="6.2">2</tspan></text>
<text x="89.5" y="323.79999999999995" font-size="9.4" fill="#111" stroke="#111" stroke-width="0.28">10<tspan dy="-4.5" dx="-0.3" font-size="6.2">3</tspan></text>
<rect x="108.4" y="243.4" width="66.0" height="65.99999999999997" fill="none" stroke="#4a4a4a" stroke-width="1"/>
<line x1="107.9" y1="309.4" x2="174.9" y2="309.4" stroke="#1a1a1a" stroke-width="1.1"/>
<line x1="105.60000000000001" y1="309.4" x2="108.4" y2="309.4" stroke="#333" stroke-width="0.5"/>
<line x1="106.4" y1="308.08" x2="108.4" y2="308.08" stroke="#333" stroke-width="0.5"/>
<line x1="106.4" y1="306.76" x2="108.4" y2="306.76" stroke="#333" stroke-width="0.5"/>
<line x1="106.4" y1="305.44" x2="108.4" y2="305.44" stroke="#333" stroke-width="0.5"/>
<line x1="106.4" y1="304.12" x2="108.4" y2="304.12" stroke="#333" stroke-width="0.5"/>
<line x1="106.4" y1="302.79999999999995" x2="108.4" y2="302.79999999999995" stroke="#333" stroke-width="0.5"/>
<line x1="106.4" y1="301.47999999999996" x2="108.4" y2="301.47999999999996" stroke="#333" stroke-width="0.5"/>
<line x1="106.4" y1="300.15999999999997" x2="108.4" y2="300.15999999999997" stroke="#333" stroke-width="0.5"/>
<line x1="106.4" y1="298.84" x2="108.4" y2="298.84" stroke="#333" stroke-width="0.5"/>
<line x1="106.4" y1="297.52" x2="108.4" y2="297.52" stroke="#333" stroke-width="0.5"/>
<line x1="105.60000000000001" y1="296.2" x2="108.4" y2="296.2" stroke="#333" stroke-width="0.5"/>
<line x1="106.4" y1="294.88" x2="108.4" y2="294.88" stroke="#333" stroke-width="0.5"/>
<line x1="106.4" y1="293.56" x2="108.4" y2="293.56" stroke="#333" stroke-width="0.5"/>
<line x1="106.4" y1="292.24" x2="108.4" y2="292.24" stroke="#333" stroke-width="0.5"/>
<line x1="106.4" y1="290.91999999999996" x2="108.4" y2="290.91999999999996" stroke="#333" stroke-width="0.5"/>
<line x1="106.4" y1="289.59999999999997" x2="108.4" y2="289.59999999999997" stroke="#333" stroke-width="0.5"/>
<line x1="106.4" y1="288.28" x2="108.4" y2="288.28" stroke="#333" stroke-width="0.5"/>
<line x1="106.4" y1="286.96" x2="108.4" y2="286.96" stroke="#333" stroke-width="0.5"/>
<line x1="106.4" y1="285.64" x2="108.4" y2="285.64" stroke="#333" stroke-width="0.5"/>
<line x1="106.4" y1="284.32" x2="108.4" y2="284.32" stroke="#333" stroke-width="0.5"/>
<line x1="105.60000000000001" y1="283.0" x2="108.4" y2="283.0" stroke="#333" stroke-width="0.5"/>
<line x1="106.4" y1="281.68" x2="108.4" y2="281.68" stroke="#333" stroke-width="0.5"/>
<line x1="106.4" y1="280.36" x2="108.4" y2="280.36" stroke="#333" stroke-width="0.5"/>
<line x1="106.4" y1="279.03999999999996" x2="108.4" y2="279.03999999999996" stroke="#333" stroke-width="0.5"/>
<line x1="106.4" y1="277.71999999999997" x2="108.4" y2="277.71999999999997" stroke="#333" stroke-width="0.5"/>
<line x1="106.4" y1="276.4" x2="108.4" y2="276.4" stroke="#333" stroke-width="0.5"/>
<line x1="106.4" y1="275.08" x2="108.4" y2="275.08" stroke="#333" stroke-width="0.5"/>
<line x1="106.4" y1="273.76" x2="108.4" y2="273.76" stroke="#333" stroke-width="0.5"/>
<line x1="106.4" y1="272.44" x2="108.4" y2="272.44" stroke="#333" stroke-width="0.5"/>
<line x1="106.4" y1="271.12" x2="108.4" y2="271.12" stroke="#333" stroke-width="0.5"/>
<line x1="105.60000000000001" y1="269.8" x2="108.4" y2="269.8" stroke="#333" stroke-width="0.5"/>
<line x1="106.4" y1="268.48" x2="108.4" y2="268.48" stroke="#333" stroke-width="0.5"/>
<line x1="106.4" y1="267.15999999999997" x2="108.4" y2="267.15999999999997" stroke="#333" stroke-width="0.5"/>
<line x1="106.4" y1="265.84" x2="108.4" y2="265.84" stroke="#333" stroke-width="0.5"/>
<line x1="106.4" y1="264.52" x2="108.4" y2="264.52" stroke="#333" stroke-width="0.5"/>
<line x1="106.4" y1="263.2" x2="108.4" y2="263.2" stroke="#333" stroke-width="0.5"/>
<line x1="106.4" y1="261.88" x2="108.4" y2="261.88" stroke="#333" stroke-width="0.5"/>
<line x1="106.4" y1="260.56" x2="108.4" y2="260.56" stroke="#333" stroke-width="0.5"/>
<line x1="106.4" y1="259.24" x2="108.4" y2="259.24" stroke="#333" stroke-width="0.5"/>
<line x1="106.4" y1="257.92" x2="108.4" y2="257.92" stroke="#333" stroke-width="0.5"/>
<line x1="105.60000000000001" y1="256.6" x2="108.4" y2="256.6" stroke="#333" stroke-width="0.5"/>
<line x1="106.4" y1="255.28" x2="108.4" y2="255.28" stroke="#333" stroke-width="0.5"/>
<line x1="106.4" y1="253.96" x2="108.4" y2="253.96" stroke="#333" stroke-width="0.5"/>
<line x1="106.4" y1="252.64000000000001" x2="108.4" y2="252.64000000000001" stroke="#333" stroke-width="0.5"/>
<line x1="106.4" y1="251.32" x2="108.4" y2="251.32" stroke="#333" stroke-width="0.5"/>
<line x1="106.4" y1="250.0" x2="108.4" y2="250.0" stroke="#333" stroke-width="0.5"/>
<line x1="106.4" y1="248.68" x2="108.4" y2="248.68" stroke="#333" stroke-width="0.5"/>
<line x1="106.4" y1="247.36" x2="108.4" y2="247.36" stroke="#333" stroke-width="0.5"/>
<line x1="106.4" y1="246.04000000000002" x2="108.4" y2="246.04000000000002" stroke="#333" stroke-width="0.5"/>
<line x1="106.4" y1="244.72" x2="108.4" y2="244.72" stroke="#333" stroke-width="0.5"/>
<line x1="105.60000000000001" y1="243.4" x2="108.4" y2="243.4" stroke="#333" stroke-width="0.5"/>
<polyline points="108.50,309.20 108.90,309.18 109.27,309.13 109.68,309.03 110.08,309.06 110.48,309.01 110.88,308.94 111.21,309.04 111.65,308.95 112.01,308.78 112.30,308.93 112.80,308.84 113.04,308.78 113.61,308.07 113.82,308.57 114.04,307.74 114.45,308.19 115.02,308.48 115.44,307.38 116.04,307.46 116.07,308.20 116.61,307.67 117.27,307.85 117.03,305.62 117.34,305.82 117.49,304.96 118.29,304.65 118.79,302.44 118.70,301.96 118.92,300.71 119.92,298.66 119.36,297.98 119.64,296.56 120.80,294.20 120.41,292.57 120.69,289.98 121.79,287.43 121.72,285.20 121.80,284.78 121.75,283.53 122.49,281.86 122.59,279.64 122.63,277.57 122.42,276.53 122.72,274.39 122.20,272.72 122.49,271.79 123.14,269.75 122.45,267.60 123.16,265.94 122.92,264.84 123.75,263.46 123.30,261.51 123.63,261.29 123.57,258.49 123.25,257.45 123.55,255.71 123.66,255.25 124.66,253.40 123.92,252.61 123.93,250.28 124.36,248.19 124.88,247.20 124.54,245.06 124.90,243.70 125.30,243.70 125.28,245.15 126.06,245.84 126.34,247.21 127.18,249.44 125.41,252.88 127.42,251.85 126.50,254.90 127.39,256.96 126.89,257.47 126.87,257.78 127.45,259.47 126.87,262.29 126.98,263.89 127.94,264.10 128.45,266.57 128.33,268.53 128.66,268.91 128.55,270.40 129.05,273.78 128.68,275.26 129.22,276.39 129.62,276.94 129.30,280.15 129.54,281.56 130.07,282.22 130.40,283.46 130.06,286.96 130.19,288.98 130.76,290.92 131.29,292.33 131.20,293.44 132.47,292.88 132.51,295.23 132.44,295.10 132.66,297.02 134.13,297.09 134.59,295.63 133.42,291.20 133.89,292.21 135.29,290.25 134.53,288.97 136.26,285.98 136.66,285.07 136.51,284.87 137.58,285.87 136.97,288.16 138.42,288.30 138.39,293.05 138.52,289.01 139.84,290.01 140.30,293.15 139.95,289.29 140.80,290.27 143.14,291.04 142.48,292.65 142.89,294.32 142.35,295.97 144.61,296.28 143.88,294.67 142.73,297.39 145.23,297.15 145.42,298.73 144.91,299.87 145.70,300.79 145.40,304.84 147.12,305.06 146.65,305.27 147.68,306.80 147.74,305.42 147.28,305.56 147.60,308.14 149.01,308.16 149.36,307.75 149.16,307.91 149.45,307.66 150.55,308.82 150.28,308.87 150.73,308.68 151.65,309.12 151.99,309.20 152.45,308.97 152.64,307.87 152.78,307.79 153.78,308.00 154.13,307.88 154.01,309.20 154.00,309.20 154.35,308.22 154.73,308.13 155.20,309.20 155.78,309.16 156.31,308.40 157.18,308.55 157.23,308.90 157.63,309.18 157.77,309.09 158.54,308.74 158.66,308.86 159.11,309.20 159.59,309.20 159.71,309.20 160.22,309.20 160.62,309.20 161.05,309.20 161.42,309.20 161.67,309.20 162.14,309.20 162.42,309.20 162.75,309.20 163.22,309.20 163.46,309.20 163.84,309.20 164.28,309.20 164.56,309.20 164.93,309.20 165.37,309.20 165.74,309.20 166.08,309.20 166.40,309.20 166.81,309.20 167.17,309.20 167.52,309.20 167.83,309.20 168.23,309.20 168.56,309.20 168.92,309.20 169.32,309.20 169.69,309.20 170.01,309.20 170.37,309.20 170.77,309.20 171.10,309.20 171.48,309.20 171.83,309.20 172.20,309.20 172.56,309.20 172.92,309.20 173.28,309.20 173.64,309.20 174.00,309.20" fill="none" stroke="#0a0a0a" stroke-width="1.4" stroke-linejoin="round"/>
<line x1="133.6" y1="265.4" x2="163.5" y2="265.4" stroke="#444" stroke-width="1"/>
<line x1="133.6" y1="261.0" x2="133.6" y2="270.0" stroke="#444" stroke-width="1"/>
<line x1="163.5" y1="261.0" x2="163.5" y2="270.0" stroke="#444" stroke-width="1"/>
<text transform="translate(147.75 259.79999999999995)" font-size="9.4" text-anchor="middle" fill="#111" stroke="#111" stroke-width="0.28" >25,54</text>
<text x="103.1" y="323.79999999999995" font-size="9.4" fill="#111" stroke="#111" stroke-width="0.28">10<tspan dy="-4.5" dx="-0.3" font-size="6.2">0</tspan></text>
<text x="124.8" y="323.79999999999995" font-size="9.4" fill="#111" stroke="#111" stroke-width="0.28">10<tspan dy="-4.5" dx="-0.3" font-size="6.2">1</tspan></text>
<text x="146.0" y="323.79999999999995" font-size="9.4" fill="#111" stroke="#111" stroke-width="0.28">10<tspan dy="-4.5" dx="-0.3" font-size="6.2">2</tspan></text>
<text x="165.3" y="323.79999999999995" font-size="9.4" fill="#111" stroke="#111" stroke-width="0.28">10<tspan dy="-4.5" dx="-0.3" font-size="6.2">3</tspan></text>
<line x1="33.5" y1="18.8" x2="174.3" y2="18.8" stroke="#222" stroke-width="1.2"/>
<text transform="translate(105 14)" font-size="9.4" text-anchor="middle" fill="#111" stroke="#111" stroke-width="0.28" >p47</text>
<line x1="33.5" y1="104.5" x2="174.3" y2="104.5" stroke="#222" stroke-width="1.2"/>
<text transform="translate(105 100.5)" font-size="9.4" text-anchor="middle" fill="#111" stroke="#111" stroke-width="0.28" >C1</text>
<line x1="33.5" y1="240.2" x2="174.3" y2="240.2" stroke="#222" stroke-width="1.2"/>
<text transform="translate(103.5 237.2)" font-size="9.4" text-anchor="middle" fill="#111" stroke="#111" stroke-width="0.28" >p47</text>
<text transform="translate(12.3 55) rotate(-90)" font-size="9.4" text-anchor="middle" fill="#111" stroke="#111" stroke-width="0.28" >% of max</text>
<text transform="translate(12.3 140.5) rotate(-90)" font-size="9.4" text-anchor="middle" fill="#111" stroke="#111" stroke-width="0.28" >% of max</text>
<text transform="translate(12.3 276.5) rotate(-90)" font-size="9.4" text-anchor="middle" fill="#111" stroke="#111" stroke-width="0.28" >% of max</text>
<text transform="translate(66.5 197)" font-size="9.5" text-anchor="middle" fill="#111" stroke="#111" stroke-width="0.28" >-</text>
<text transform="translate(142.7 199.6)" font-size="9.5" text-anchor="middle" fill="#111" stroke="#111" stroke-width="0.28" >LPS</text>
<text transform="translate(30 209.2)" font-size="9.6" text-anchor="start" fill="#111" stroke="#111" stroke-width="0.28" >Caspase-1 Flica</text>
<line x1="104" y1="207.3" x2="171" y2="207.3" stroke="#111" stroke-width="1.25"/>
<polygon points="174.3,207.3 168.0,204.70000000000002 168.0,209.9" fill="#111"/>
<text transform="translate(66 333.5)" font-size="9.5" text-anchor="middle" fill="#111" stroke="#111" stroke-width="0.28" >-</text>
<text transform="translate(141 336.9)" font-size="9.5" text-anchor="middle" fill="#111" stroke="#111" stroke-width="0.28" >LPS</text>
<text transform="translate(28 347)" font-size="9.6" text-anchor="start" fill="#111" stroke="#111" stroke-width="0.28" >Caspase-1 Flica</text>
<line x1="103" y1="344.5" x2="171" y2="344.5" stroke="#111" stroke-width="1.25"/>
<polygon points="174.3,344.5 168.0,341.9 168.0,347.1" fill="#111"/>
<text transform="translate(0.9 12.6) scale(1.08 1)" font-size="16.2" text-anchor="start" font-weight="bold" fill="#000" stroke="#000" stroke-width="0.45" >A</text>
<text transform="translate(191.5 12.8) scale(1.08 1)" font-size="16.2" text-anchor="start" font-weight="bold" fill="#000" stroke="#000" stroke-width="0.45" >B</text>
<text transform="translate(287.8 13) scale(1.08 1)" font-size="16.2" text-anchor="start" font-weight="bold" fill="#000" stroke="#000" stroke-width="0.45" >C</text>
<text transform="translate(407.5 12.8) scale(1.08 1)" font-size="16.2" text-anchor="start" font-weight="bold" fill="#000" stroke="#000" stroke-width="0.45" >D</text>
<text transform="translate(1 231.3) scale(1.08 1)" font-size="16.2" text-anchor="start" font-weight="bold" fill="#000" stroke="#000" stroke-width="0.45" >E</text>
<text transform="translate(192.5 191.3) scale(1.08 1)" font-size="16.2" text-anchor="start" font-weight="bold" fill="#000" stroke="#000" stroke-width="0.45" >F</text>
<text transform="translate(367.5 190.8) scale(1.08 1)" font-size="16.2" text-anchor="start" font-weight="bold" fill="#000" stroke="#000" stroke-width="0.45" >G</text>
<line x1="225.6" y1="41.0" x2="225.6" y2="149.0" stroke="#111" stroke-width="1"/>
<line x1="225.1" y1="148.5" x2="268.8" y2="148.5" stroke="#111" stroke-width="1"/>
<line x1="221.1" y1="148.5" x2="225.6" y2="148.5" stroke="#111" stroke-width="1"/>
<text transform="translate(221.4 150.9)" font-size="9.4" text-anchor="end" fill="#111" stroke="#111" stroke-width="0.28" >0</text>
<line x1="221.1" y1="121.85" x2="225.6" y2="121.85" stroke="#111" stroke-width="1"/>
<text transform="translate(221.4 124.25)" font-size="9.4" text-anchor="end" fill="#111" stroke="#111" stroke-width="0.28" >5</text>
<line x1="221.1" y1="95.2" x2="225.6" y2="95.2" stroke="#111" stroke-width="1"/>
<text transform="translate(221.4 97.60000000000001)" font-size="9.4" text-anchor="end" fill="#111" stroke="#111" stroke-width="0.28" >10</text>
<line x1="221.1" y1="68.55" x2="225.6" y2="68.55" stroke="#111" stroke-width="1"/>
<text transform="translate(221.4 70.95)" font-size="9.4" text-anchor="end" fill="#111" stroke="#111" stroke-width="0.28" >15</text>
<line x1="221.1" y1="41.900000000000006" x2="225.6" y2="41.900000000000006" stroke="#111" stroke-width="1"/>
<text transform="translate(221.4 44.300000000000004)" font-size="9.4" text-anchor="end" fill="#111" stroke="#111" stroke-width="0.28" >20</text>
<line x1="239.7" y1="148.5" x2="239.7" y2="151.5" stroke="#111" stroke-width="1"/>
<line x1="256.3" y1="148.5" x2="256.3" y2="151.5" stroke="#111" stroke-width="1"/>
<polygon points="239.9,94.978 237.6,99.348 242.20000000000002,99.348" fill="#fff" stroke="#111" stroke-width="1.15" stroke-linejoin="miter"/>
<rect x="237.4" y="108.2" width="5.0" height="5.0" fill="#111" stroke="#111" stroke-width="1.1"/>
<rect x="237.4" y="125.0" width="5.0" height="5.0" fill="#fff" stroke="#111" stroke-width="1.1"/>
<polygon points="239.9,134.67800000000003 237.6,139.048 242.20000000000002,139.048" fill="#fff" stroke="#111" stroke-width="1.15" stroke-linejoin="miter"/>
<polygon points="256.3,57.478 254.0,61.848 258.6,61.848" fill="#fff" stroke="#111" stroke-width="1.15" stroke-linejoin="miter"/>
<rect x="253.8" y="77.0" width="5.0" height="5.0" fill="#111" stroke="#111" stroke-width="1.1"/>
<polygon points="256.3,101.478 254.0,105.848 258.6,105.848" fill="#fff" stroke="#111" stroke-width="1.15" stroke-linejoin="miter"/>
<rect x="253.8" y="107.9" width="5.0" height="5.0" fill="#fff" stroke="#111" stroke-width="1.1"/>
<rect x="212.1" y="13.7" width="6.0" height="6.0" fill="#111" stroke="#111" stroke-width="1.1"/>
<text transform="translate(222.3 20.1)" font-size="9.4" text-anchor="start" fill="#111" stroke="#111" stroke-width="0.28" >p47</text>
<rect x="246.0" y="13.899999999999999" width="5.6" height="5.6" fill="#fff" stroke="#111" stroke-width="1.3"/>
<text transform="translate(256.0 20.1)" font-size="9.4" text-anchor="start" fill="#111" stroke="#111" stroke-width="0.28" >C1</text>
<polygon points="215.1,25.037 212.15,30.642 218.04999999999998,30.642" fill="#999" stroke="#111" stroke-width="1.2" stroke-linejoin="miter"/>
<text transform="translate(222.3 31.0)" font-size="9.4" text-anchor="start" fill="#111" stroke="#111" stroke-width="0.28" >p47</text>
<polygon points="248.9,25.037 245.95000000000002,30.642 251.85,30.642" fill="#fff" stroke="#111" stroke-width="1.2" stroke-linejoin="miter"/>
<text transform="translate(256.0 31.0)" font-size="9.4" text-anchor="start" fill="#111" stroke="#111" stroke-width="0.28" >C2</text>
<text transform="translate(203.1 96.2) rotate(-90)" font-size="9.4" text-anchor="middle" fill="#111" stroke="#111" stroke-width="0.28" >% active Caspase-1 (Flica +)</text>
<text transform="translate(241.0 160) rotate(-45)" font-size="9.5" text-anchor="end" fill="#111" stroke="#111" stroke-width="0.28" >-</text>
<text transform="translate(261.2 161.1) rotate(-45)" font-size="9.5" text-anchor="end" fill="#111" stroke="#111" stroke-width="0.28" >LPS</text>
<line x1="324.8" y1="21.0" x2="324.8" y2="149.2" stroke="#111" stroke-width="1"/>
<line x1="324.3" y1="148.7" x2="398.5" y2="148.7" stroke="#111" stroke-width="1.3"/>
<line x1="321.40000000000003" y1="148.7" x2="324.8" y2="148.7" stroke="#111" stroke-width="1"/>
<text transform="translate(320.5 151.7)" font-size="9.4" text-anchor="end" fill="#111" stroke="#111" stroke-width="0.28" >0</text>
<line x1="321.40000000000003" y1="106.27999999999999" x2="324.8" y2="106.27999999999999" stroke="#111" stroke-width="1"/>
<text transform="translate(320.5 109.27999999999999)" font-size="9.4" text-anchor="end" fill="#111" stroke="#111" stroke-width="0.28" >100</text>
<line x1="321.40000000000003" y1="63.859999999999985" x2="324.8" y2="63.859999999999985" stroke="#111" stroke-width="1"/>
<text transform="translate(320.5 66.85999999999999)" font-size="9.4" text-anchor="end" fill="#111" stroke="#111" stroke-width="0.28" >200</text>
<line x1="321.40000000000003" y1="21.439999999999984" x2="324.8" y2="21.439999999999984" stroke="#111" stroke-width="1"/>
<text transform="translate(320.5 24.439999999999984)" font-size="9.4" text-anchor="end" fill="#111" stroke="#111" stroke-width="0.28" >300</text>
<rect x="329.40000000000003" y="22.2" width="6.3" height="6.3" fill="#111" stroke="#111" stroke-width="1.1"/>
<text transform="translate(339.50000000000006 27.849999999999998)" font-size="9.4" text-anchor="start" fill="#111" stroke="#111" stroke-width="0.28" >p47</text>
<rect x="329.40000000000003" y="32.85" width="6.3" height="6.3" fill="#a9a9a9" stroke="#111" stroke-width="1.1"/>
<text transform="translate(339.50000000000006 38.5)" font-size="9.4" text-anchor="start" fill="#111" stroke="#111" stroke-width="0.28" >p47</text>
<rect x="329.40000000000003" y="43.5" width="6.3" height="6.3" fill="#fff" stroke="#111" stroke-width="1.1"/>
<text transform="translate(339.50000000000006 49.15)" font-size="9.4" text-anchor="start" fill="#111" stroke="#111" stroke-width="0.28" >C1</text>
<text transform="translate(298.4 85.0) rotate(-90)" font-size="9.4" text-anchor="middle" fill="#111" stroke="#111" stroke-width="0.28" >IL-1&#946; release (pg/mL)</text>
<rect x="329.8" y="134.48026" width="4.0" height="14.219740000000002" fill="#050505" stroke="#111" stroke-width="1"/>
<rect x="336.2" y="120.99069999999999" width="4.199999999999989" height="27.7093" fill="#050505" stroke="#111" stroke-width="1"/>
<rect x="342.6" y="106.01643999999999" width="4.199999999999989" height="42.68356" fill="#050505" stroke="#111" stroke-width="1"/>
<line x1="355.9" y1="120.49069999999999" x2="355.9" y2="123.75703999999999" stroke="#111" stroke-width="1.1"/>
<line x1="354.29999999999995" y1="120.49069999999999" x2="357.5" y2="120.49069999999999" stroke="#111" stroke-width="1.1"/>
<rect x="353.7" y="124.25703999999999" width="4.400000000000034" height="24.44296" fill="#a9a9a9" stroke="#111" stroke-width="1"/>
<line x1="362.45000000000005" y1="70.73203999999998" x2="362.45000000000005" y2="77.51923999999998" stroke="#111" stroke-width="1.1"/>
<line x1="360.85" y1="70.73203999999998" x2="364.05000000000007" y2="70.73203999999998" stroke="#111" stroke-width="1.1"/>
<rect x="360.3" y="78.01923999999998" width="4.300000000000011" height="70.68076" fill="#a9a9a9" stroke="#111" stroke-width="1"/>
<line x1="369.15" y1="30.517879999999977" x2="369.15" y2="42.98935999999999" stroke="#111" stroke-width="1.1"/>
<line x1="367.54999999999995" y1="30.517879999999977" x2="370.75" y2="30.517879999999977" stroke="#111" stroke-width="1.1"/>
<rect x="366.9" y="43.48935999999999" width="4.5" height="105.21064" fill="#a9a9a9" stroke="#111" stroke-width="1"/>
<rect x="377.1" y="141.9886" width="4.0" height="6.711399999999998" fill="#fff" stroke="#111" stroke-width="1"/>
<rect x="383.5" y="134.7772" width="4.100000000000023" height="13.922799999999995" fill="#fff" stroke="#111" stroke-width="1"/>
<rect x="390.0" y="125.02059999999999" width="4.399999999999977" height="23.6794" fill="#fff" stroke="#111" stroke-width="1"/>
<text transform="translate(330.90000000000003 166.0) scale(0.86 1)" font-size="9.9" text-anchor="middle" fill="#111" stroke="#111" stroke-width="0.2" >0</text>
<text transform="translate(338.05 166.0) scale(0.86 1)" font-size="9.9" text-anchor="middle" fill="#111" stroke="#111" stroke-width="0.2" >2</text>
<text transform="translate(345.2 166.0) scale(0.86 1)" font-size="9.9" text-anchor="middle" fill="#111" stroke="#111" stroke-width="0.2" >5</text>
<text transform="translate(355.15 166.0) scale(0.86 1)" font-size="9.9" text-anchor="middle" fill="#111" stroke="#111" stroke-width="0.2" >0</text>
<text transform="translate(362.29999999999995 166.0) scale(0.86 1)" font-size="9.9" text-anchor="middle" fill="#111" stroke="#111" stroke-width="0.2" >2</text>
<text transform="translate(369.44999999999993 166.0) scale(0.86 1)" font-size="9.9" text-anchor="middle" fill="#111" stroke="#111" stroke-width="0.2" >5</text>
<text transform="translate(378.35 166.0) scale(0.86 1)" font-size="9.9" text-anchor="middle" fill="#111" stroke="#111" stroke-width="0.2" >0</text>
<text transform="translate(385.5 166.0) scale(0.86 1)" font-size="9.9" text-anchor="middle" fill="#111" stroke="#111" stroke-width="0.2" >2</text>
<text transform="translate(392.65 166.0) scale(0.86 1)" font-size="9.9" text-anchor="middle" fill="#111" stroke="#111" stroke-width="0.2" >5</text>
<text transform="translate(288.7 165.79999999999998) scale(0.97 1)" font-size="9.8" text-anchor="start" fill="#111" stroke="#111" stroke-width="0.28" >LPS (h)</text>
<line x1="445.3" y1="20.2" x2="445.3" y2="148.9" stroke="#111" stroke-width="1"/>
<line x1="444.8" y1="148.4" x2="520" y2="148.4" stroke="#111" stroke-width="1.3"/>
<line x1="441.90000000000003" y1="148.4" x2="445.3" y2="148.4" stroke="#111" stroke-width="1"/>
<text transform="translate(441.0 151.4)" font-size="9.4" text-anchor="end" fill="#111" stroke="#111" stroke-width="0.28" >0</text>
<line x1="441.90000000000003" y1="105.67" x2="445.3" y2="105.67" stroke="#111" stroke-width="1"/>
<text transform="translate(441.0 108.67)" font-size="9.4" text-anchor="end" fill="#111" stroke="#111" stroke-width="0.28" >100</text>
<line x1="441.90000000000003" y1="62.94" x2="445.3" y2="62.94" stroke="#111" stroke-width="1"/>
<text transform="translate(441.0 65.94)" font-size="9.4" text-anchor="end" fill="#111" stroke="#111" stroke-width="0.28" >200</text>
<line x1="441.90000000000003" y1="20.210000000000008" x2="445.3" y2="20.210000000000008" stroke="#111" stroke-width="1"/>
<text transform="translate(441.0 23.210000000000008)" font-size="9.4" text-anchor="end" fill="#111" stroke="#111" stroke-width="0.28" >300</text>
<rect x="449.90000000000003" y="20.6" width="6.3" height="6.3" fill="#111" stroke="#111" stroke-width="1.1"/>
<text transform="translate(460.00000000000006 26.25)" font-size="9.4" text-anchor="start" fill="#111" stroke="#111" stroke-width="0.28" >p47</text>
<rect x="449.90000000000003" y="31.25" width="6.3" height="6.3" fill="#a9a9a9" stroke="#111" stroke-width="1.1"/>
<text transform="translate(460.00000000000006 36.9)" font-size="9.4" text-anchor="start" fill="#111" stroke="#111" stroke-width="0.28" >p47</text>
<rect x="449.90000000000003" y="41.900000000000006" width="6.3" height="6.3" fill="#fff" stroke="#111" stroke-width="1.1"/>
<text transform="translate(460.00000000000006 47.550000000000004)" font-size="9.4" text-anchor="start" fill="#111" stroke="#111" stroke-width="0.28" >C1</text>
<text transform="translate(417.3 82.9) rotate(-90)" font-size="9.4" text-anchor="middle" fill="#111" stroke="#111" stroke-width="0.28" >IL-1&#945; release (pg/mL)</text>
<line x1="452.65" y1="83.0231" x2="452.65" y2="90.7145" stroke="#111" stroke-width="1.1"/>
<line x1="451.04999999999995" y1="83.0231" x2="454.25" y2="83.0231" stroke="#111" stroke-width="1.1"/>
<rect x="450.3" y="91.2145" width="4.699999999999989" height="57.185500000000005" fill="#050505" stroke="#111" stroke-width="1"/>
<line x1="459.45" y1="83.4504" x2="459.45" y2="89.43260000000001" stroke="#111" stroke-width="1.1"/>
<line x1="457.84999999999997" y1="83.4504" x2="461.05" y2="83.4504" stroke="#111" stroke-width="1.1"/>
<rect x="457.2" y="89.93260000000001" width="4.5" height="58.4674" fill="#050505" stroke="#111" stroke-width="1"/>
<line x1="466.1" y1="59.52160000000001" x2="466.1" y2="71.9133" stroke="#111" stroke-width="1.1"/>
<line x1="464.5" y1="59.52160000000001" x2="467.70000000000005" y2="59.52160000000001" stroke="#111" stroke-width="1.1"/>
<rect x="463.8" y="72.4133" width="4.599999999999966" height="75.9867" fill="#050505" stroke="#111" stroke-width="1"/>
<line x1="476.5" y1="87.7234" x2="476.5" y2="89.85990000000001" stroke="#111" stroke-width="1.1"/>
<line x1="474.9" y1="87.7234" x2="478.1" y2="87.7234" stroke="#111" stroke-width="1.1"/>
<rect x="474.2" y="90.35990000000001" width="4.600000000000023" height="58.040099999999995" fill="#a9a9a9" stroke="#111" stroke-width="1"/>
<line x1="483.15" y1="56.957800000000006" x2="483.15" y2="64.2219" stroke="#111" stroke-width="1.1"/>
<line x1="481.54999999999995" y1="56.957800000000006" x2="484.75" y2="56.957800000000006" stroke="#111" stroke-width="1.1"/>
<rect x="480.9" y="64.7219" width="4.5" height="83.6781" fill="#a9a9a9" stroke="#111" stroke-width="1"/>
<line x1="489.8" y1="40.7204" x2="489.8" y2="49.266400000000004" stroke="#111" stroke-width="1.1"/>
<line x1="488.2" y1="40.7204" x2="491.40000000000003" y2="40.7204" stroke="#111" stroke-width="1.1"/>
<rect x="487.5" y="49.766400000000004" width="4.600000000000023" height="98.6336" fill="#a9a9a9" stroke="#111" stroke-width="1"/>
<line x1="500.0" y1="119.77090000000001" x2="500.0" y2="120.6255" stroke="#111" stroke-width="1.1"/>
<line x1="498.4" y1="119.77090000000001" x2="501.6" y2="119.77090000000001" stroke="#111" stroke-width="1.1"/>
<rect x="497.9" y="121.1255" width="4.2000000000000455" height="27.274500000000003" fill="#fff" stroke="#111" stroke-width="1"/>
<line x1="506.35" y1="118.489" x2="506.35" y2="119.34360000000001" stroke="#111" stroke-width="1.1"/>
<line x1="504.75" y1="118.489" x2="507.95000000000005" y2="118.489" stroke="#111" stroke-width="1.1"/>
<rect x="504.3" y="119.84360000000001" width="4.099999999999966" height="28.556399999999996" fill="#fff" stroke="#111" stroke-width="1"/>
<line x1="513.0" y1="109.08840000000001" x2="513.0" y2="109.94300000000001" stroke="#111" stroke-width="1.1"/>
<line x1="511.4" y1="109.08840000000001" x2="514.6" y2="109.08840000000001" stroke="#111" stroke-width="1.1"/>
<rect x="510.9" y="110.44300000000001" width="4.2000000000000455" height="37.956999999999994" fill="#fff" stroke="#111" stroke-width="1"/>
<text transform="translate(451.95000000000005 165.70000000000002) scale(0.86 1)" font-size="9.9" text-anchor="middle" fill="#111" stroke="#111" stroke-width="0.2" >0</text>
<text transform="translate(459.1 165.70000000000002) scale(0.86 1)" font-size="9.9" text-anchor="middle" fill="#111" stroke="#111" stroke-width="0.2" >2</text>
<text transform="translate(466.25 165.70000000000002) scale(0.86 1)" font-size="9.9" text-anchor="middle" fill="#111" stroke="#111" stroke-width="0.2" >5</text>
<text transform="translate(475.75 165.70000000000002) scale(0.86 1)" font-size="9.9" text-anchor="middle" fill="#111" stroke="#111" stroke-width="0.2" >0</text>
<text transform="translate(482.9 165.70000000000002) scale(0.86 1)" font-size="9.9" text-anchor="middle" fill="#111" stroke="#111" stroke-width="0.2" >2</text>
<text transform="translate(490.04999999999995 165.70000000000002) scale(0.86 1)" font-size="9.9" text-anchor="middle" fill="#111" stroke="#111" stroke-width="0.2" >5</text>
<text transform="translate(499.1 165.70000000000002) scale(0.86 1)" font-size="9.9" text-anchor="middle" fill="#111" stroke="#111" stroke-width="0.2" >0</text>
<text transform="translate(506.25 165.70000000000002) scale(0.86 1)" font-size="9.9" text-anchor="middle" fill="#111" stroke="#111" stroke-width="0.2" >2</text>
<text transform="translate(513.4 165.70000000000002) scale(0.86 1)" font-size="9.9" text-anchor="middle" fill="#111" stroke="#111" stroke-width="0.2" >5</text>
<text transform="translate(410 165.5) scale(0.97 1)" font-size="9.8" text-anchor="start" fill="#111" stroke="#111" stroke-width="0.28" >LPS (h)</text>
<line x1="232.4" y1="193.8" x2="232.4" y2="304.75" stroke="#111" stroke-width="1"/>
<line x1="231.9" y1="304.25" x2="286.6" y2="304.25" stroke="#111" stroke-width="1.3"/>
<line x1="295.25" y1="193.2" x2="295.25" y2="304.75" stroke="#111" stroke-width="1"/>
<line x1="294.75" y1="304.25" x2="349.6" y2="304.25" stroke="#111" stroke-width="1.3"/>
<line x1="228.8" y1="304.25" x2="232.4" y2="304.25" stroke="#111" stroke-width="1"/>
<text transform="translate(228.9 307.25)" font-size="9.4" text-anchor="end" fill="#111" stroke="#111" stroke-width="0.28" >0</text>
<line x1="228.8" y1="270.65" x2="232.4" y2="270.65" stroke="#111" stroke-width="1"/>
<text transform="translate(228.9 273.65)" font-size="9.4" text-anchor="end" fill="#111" stroke="#111" stroke-width="0.28" >200</text>
<line x1="292.25" y1="270.65" x2="295.25" y2="270.65" stroke="#111" stroke-width="1"/>
<line x1="228.8" y1="237.05" x2="232.4" y2="237.05" stroke="#111" stroke-width="1"/>
<text transform="translate(228.9 240.05)" font-size="9.4" text-anchor="end" fill="#111" stroke="#111" stroke-width="0.28" >400</text>
<line x1="292.25" y1="237.05" x2="295.25" y2="237.05" stroke="#111" stroke-width="1"/>
<line x1="228.8" y1="203.45" x2="232.4" y2="203.45" stroke="#111" stroke-width="1"/>
<text transform="translate(228.9 206.45)" font-size="9.4" text-anchor="end" fill="#111" stroke="#111" stroke-width="0.28" >600</text>
<line x1="292.25" y1="203.45" x2="295.25" y2="203.45" stroke="#111" stroke-width="1"/>
<rect x="236.15" y="194.65" width="6.5" height="6.5" fill="#111" stroke="#111" stroke-width="1.1"/>
<text transform="translate(247.0 200.4)" font-size="9.4" text-anchor="start" fill="#111" stroke="#111" stroke-width="0.28" >p47</text>
<rect x="236.15" y="204.65" width="6.5" height="6.5" fill="#fff" stroke="#111" stroke-width="1.1"/>
<text transform="translate(247.0 210.4)" font-size="9.4" text-anchor="start" fill="#111" stroke="#111" stroke-width="0.28" >C1</text>
<rect x="298.65" y="194.0" width="6.5" height="6.5" fill="#111" stroke="#111" stroke-width="1.1"/>
<text transform="translate(309.7 199.75)" font-size="9.4" text-anchor="start" fill="#111" stroke="#111" stroke-width="0.28" >p47</text>
<rect x="298.65" y="203.85" width="6.5" height="6.5" fill="#fff" stroke="#111" stroke-width="1.1"/>
<text transform="translate(309.7 209.6)" font-size="9.4" text-anchor="start" fill="#111" stroke="#111" stroke-width="0.28" >C1</text>
<text transform="translate(207.5 252.9) rotate(-90)" font-size="9.4" text-anchor="middle" fill="#111" stroke="#111" stroke-width="0.28" >IL-1&#946; release (pg/mL)</text>
<line x1="238.8" y1="267.962" x2="238.8" y2="269.978" stroke="#111" stroke-width="1.1"/>
<line x1="237.20000000000002" y1="267.962" x2="240.4" y2="267.962" stroke="#111" stroke-width="1.1"/>
<rect x="236.5" y="270.478" width="4.599999999999994" height="33.77199999999999" fill="#050505" stroke="#111" stroke-width="1"/>
<line x1="245.89999999999998" y1="231.7412" x2="245.89999999999998" y2="232.934" stroke="#111" stroke-width="1.1"/>
<line x1="244.29999999999998" y1="231.7412" x2="247.49999999999997" y2="231.7412" stroke="#111" stroke-width="1.1"/>
<rect x="243.6" y="233.434" width="4.599999999999994" height="70.816" fill="#050505" stroke="#111" stroke-width="1"/>
<line x1="253.0" y1="219.242" x2="253.0" y2="222.938" stroke="#111" stroke-width="1.1"/>
<line x1="251.4" y1="219.242" x2="254.6" y2="219.242" stroke="#111" stroke-width="1.1"/>
<rect x="250.5" y="223.438" width="5.0" height="80.81200000000001" fill="#050505" stroke="#111" stroke-width="1"/>
<line x1="265.05" y1="296.186" x2="265.05" y2="296.774" stroke="#111" stroke-width="1.1"/>
<line x1="263.45" y1="296.186" x2="266.65000000000003" y2="296.186" stroke="#111" stroke-width="1.1"/>
<rect x="262.8" y="297.274" width="4.5" height="6.975999999999999" fill="#fff" stroke="#111" stroke-width="1"/>
<line x1="272.0" y1="283.418" x2="272.0" y2="288.4076" stroke="#111" stroke-width="1.1"/>
<line x1="270.4" y1="283.418" x2="273.6" y2="283.418" stroke="#111" stroke-width="1.1"/>
<rect x="269.6" y="288.9076" width="4.7999999999999545" height="15.342399999999998" fill="#fff" stroke="#111" stroke-width="1"/>
<line x1="279.75" y1="284.426" x2="279.75" y2="287.114" stroke="#111" stroke-width="1.1"/>
<line x1="278.15" y1="284.426" x2="281.35" y2="284.426" stroke="#111" stroke-width="1.1"/>
<rect x="277.2" y="287.614" width="5.100000000000023" height="16.636000000000024" fill="#fff" stroke="#111" stroke-width="1"/>
<line x1="301.70000000000005" y1="281.234" x2="301.70000000000005" y2="283.334" stroke="#111" stroke-width="1.1"/>
<line x1="300.1" y1="281.234" x2="303.30000000000007" y2="281.234" stroke="#111" stroke-width="1.1"/>
<rect x="299.3" y="283.834" width="4.800000000000011" height="20.415999999999997" fill="#050505" stroke="#111" stroke-width="1"/>
<line x1="308.85" y1="282.41" x2="308.85" y2="283.922" stroke="#111" stroke-width="1.1"/>
<line x1="307.25" y1="282.41" x2="310.45000000000005" y2="282.41" stroke="#111" stroke-width="1.1"/>
<rect x="306.4" y="284.422" width="4.900000000000034" height="19.827999999999975" fill="#050505" stroke="#111" stroke-width="1"/>
<line x1="316.0" y1="284.594" x2="316.0" y2="286.694" stroke="#111" stroke-width="1.1"/>
<line x1="314.4" y1="284.594" x2="317.6" y2="284.594" stroke="#111" stroke-width="1.1"/>
<rect x="313.5" y="287.194" width="5.0" height="17.055999999999983" fill="#050505" stroke="#111" stroke-width="1"/>
<rect x="325.7" y="303.238" width="4.100000000000023" height="1.0120000000000005" fill="#fff" stroke="#111" stroke-width="1"/>
<rect x="332.6" y="301.9948" width="4.599999999999966" height="2.255200000000002" fill="#fff" stroke="#111" stroke-width="1"/>
<line x1="342.35" y1="290.978" x2="342.35" y2="291.7172" stroke="#111" stroke-width="1.1"/>
<line x1="340.75" y1="290.978" x2="343.95000000000005" y2="290.978" stroke="#111" stroke-width="1.1"/>
<rect x="339.8" y="292.2172" width="5.099999999999966" height="12.032800000000009" fill="#fff" stroke="#111" stroke-width="1"/>
<text transform="translate(238.6 319.15) scale(0.86 1)" font-size="9.9" text-anchor="middle" fill="#111" stroke="#111" stroke-width="0.2" >0</text>
<text transform="translate(245.75 319.15) scale(0.86 1)" font-size="9.9" text-anchor="middle" fill="#111" stroke="#111" stroke-width="0.2" >2</text>
<text transform="translate(252.9 319.15) scale(0.86 1)" font-size="9.9" text-anchor="middle" fill="#111" stroke="#111" stroke-width="0.2" >5</text>
<text transform="translate(265.15000000000003 319.15) scale(0.86 1)" font-size="9.9" text-anchor="middle" fill="#111" stroke="#111" stroke-width="0.2" >0</text>
<text transform="translate(272.3 319.15) scale(0.86 1)" font-size="9.9" text-anchor="middle" fill="#111" stroke="#111" stroke-width="0.2" >2</text>
<text transform="translate(279.45 319.15) scale(0.86 1)" font-size="9.9" text-anchor="middle" fill="#111" stroke="#111" stroke-width="0.2" >5</text>
<text transform="translate(301.5 319.15) scale(0.86 1)" font-size="9.9" text-anchor="middle" fill="#111" stroke="#111" stroke-width="0.2" >0</text>
<text transform="translate(308.65 319.15) scale(0.86 1)" font-size="9.9" text-anchor="middle" fill="#111" stroke="#111" stroke-width="0.2" >2</text>
<text transform="translate(315.79999999999995 319.15) scale(0.86 1)" font-size="9.9" text-anchor="middle" fill="#111" stroke="#111" stroke-width="0.2" >5</text>
<text transform="translate(327.9 319.15) scale(0.86 1)" font-size="9.9" text-anchor="middle" fill="#111" stroke="#111" stroke-width="0.2" >0</text>
<text transform="translate(335.04999999999995 319.15) scale(0.86 1)" font-size="9.9" text-anchor="middle" fill="#111" stroke="#111" stroke-width="0.2" >2</text>
<text transform="translate(342.19999999999993 319.15) scale(0.86 1)" font-size="9.9" text-anchor="middle" fill="#111" stroke="#111" stroke-width="0.2" >5</text>
<text transform="translate(197 318.95) scale(0.97 1)" font-size="9.8" text-anchor="start" fill="#111" stroke="#111" stroke-width="0.28" >LPS (h)</text>
<line x1="234.8" y1="325.55" x2="258.5" y2="325.55" stroke="#111" stroke-width="1.3"/>
<text transform="translate(246.65 337.05)" font-size="9.5" text-anchor="middle" fill="#111" stroke="#111" stroke-width="0.28" >pre</text>
<text transform="translate(248.15 348.25)" font-size="9.5" text-anchor="middle" fill="#111" stroke="#111" stroke-width="0.28" >anakinra</text>
<line x1="297.3" y1="325.55" x2="320.5" y2="325.55" stroke="#111" stroke-width="1.3"/>
<text transform="translate(308.9 337.05)" font-size="9.5" text-anchor="middle" fill="#111" stroke="#111" stroke-width="0.28" >post</text>
<text transform="translate(310.4 348.25)" font-size="9.5" text-anchor="middle" fill="#111" stroke="#111" stroke-width="0.28" >anakinra</text>
<line x1="401.8" y1="194.7" x2="401.8" y2="304.75" stroke="#111" stroke-width="1"/>
<line x1="401.3" y1="304.25" x2="455.6" y2="304.25" stroke="#111" stroke-width="1.3"/>
<line x1="464.2" y1="192.9" x2="464.2" y2="304.75" stroke="#111" stroke-width="1"/>
<line x1="463.7" y1="304.25" x2="520" y2="304.25" stroke="#111" stroke-width="1.3"/>
<line x1="398.2" y1="304.25" x2="401.8" y2="304.25" stroke="#111" stroke-width="1"/>
<text transform="translate(398.3 307.25)" font-size="9.4" text-anchor="end" fill="#111" stroke="#111" stroke-width="0.28" >0</text>
<line x1="398.2" y1="279.25" x2="401.8" y2="279.25" stroke="#111" stroke-width="1"/>
<text transform="translate(398.3 282.25)" font-size="9.4" text-anchor="end" fill="#111" stroke="#111" stroke-width="0.28" >200</text>
<line x1="461.2" y1="278.45" x2="464.2" y2="278.45" stroke="#111" stroke-width="1"/>
<line x1="398.2" y1="254.25" x2="401.8" y2="254.25" stroke="#111" stroke-width="1"/>
<text transform="translate(398.3 257.25)" font-size="9.4" text-anchor="end" fill="#111" stroke="#111" stroke-width="0.28" >400</text>
<line x1="461.2" y1="253.45" x2="464.2" y2="253.45" stroke="#111" stroke-width="1"/>
<line x1="398.2" y1="229.25" x2="401.8" y2="229.25" stroke="#111" stroke-width="1"/>
<text transform="translate(398.3 232.25)" font-size="9.4" text-anchor="end" fill="#111" stroke="#111" stroke-width="0.28" >600</text>
<line x1="461.2" y1="228.45" x2="464.2" y2="228.45" stroke="#111" stroke-width="1"/>
<line x1="398.2" y1="204.25" x2="401.8" y2="204.25" stroke="#111" stroke-width="1"/>
<text transform="translate(398.3 207.25)" font-size="9.4" text-anchor="end" fill="#111" stroke="#111" stroke-width="0.28" >800</text>
<line x1="461.2" y1="203.45" x2="464.2" y2="203.45" stroke="#111" stroke-width="1"/>
<rect x="404.5" y="195.45" width="6.5" height="6.5" fill="#111" stroke="#111" stroke-width="1.1"/>
<text transform="translate(415.2 201.2)" font-size="9.4" text-anchor="start" fill="#111" stroke="#111" stroke-width="0.28" >p47</text>
<rect x="404.5" y="205.35" width="6.5" height="6.5" fill="#fff" stroke="#111" stroke-width="1.1"/>
<text transform="translate(415.2 211.1)" font-size="9.4" text-anchor="start" fill="#111" stroke="#111" stroke-width="0.28" >C1</text>
<rect x="466.85" y="193.05" width="6.5" height="6.5" fill="#111" stroke="#111" stroke-width="1.1"/>
<text transform="translate(477.7 198.8)" font-size="9.4" text-anchor="start" fill="#111" stroke="#111" stroke-width="0.28" >p47</text>
<rect x="466.85" y="203.35" width="6.5" height="6.5" fill="#fff" stroke="#111" stroke-width="1.1"/>
<text transform="translate(477.7 209.1)" font-size="9.4" text-anchor="start" fill="#111" stroke="#111" stroke-width="0.28" >C1</text>
<text transform="translate(378.5 255.6) rotate(-90)" font-size="9.4" text-anchor="middle" fill="#111" stroke="#111" stroke-width="0.28" >IL-1&#945; release (pg/mL)</text>
<line x1="407.8" y1="250.5" x2="407.8" y2="256.25" stroke="#111" stroke-width="1.1"/>
<line x1="406.2" y1="250.5" x2="409.40000000000003" y2="250.5" stroke="#111" stroke-width="1.1"/>
<rect x="405.5" y="256.75" width="4.600000000000023" height="47.5" fill="#050505" stroke="#111" stroke-width="1"/>
<line x1="415.0" y1="254.25" x2="415.0" y2="259.75" stroke="#111" stroke-width="1.1"/>
<line x1="413.4" y1="254.25" x2="416.6" y2="254.25" stroke="#111" stroke-width="1.1"/>
<rect x="412.6" y="260.25" width="4.7999999999999545" height="44.0" fill="#050505" stroke="#111" stroke-width="1"/>
<line x1="422.4" y1="220.5" x2="422.4" y2="223.4" stroke="#111" stroke-width="1.1"/>
<line x1="420.79999999999995" y1="220.5" x2="424.0" y2="220.5" stroke="#111" stroke-width="1.1"/>
<rect x="419.9" y="223.9" width="5.0" height="80.35" fill="#050505" stroke="#111" stroke-width="1"/>
<rect x="432.7" y="300.75" width="4.100000000000023" height="3.5" fill="#fff" stroke="#111" stroke-width="1"/>
<rect x="439.5" y="301.75" width="4.399999999999977" height="2.5" fill="#fff" stroke="#111" stroke-width="1"/>
<rect x="446.9" y="299.25" width="4.800000000000011" height="5.0" fill="#fff" stroke="#111" stroke-width="1"/>
<rect x="467.8" y="296.75" width="4.800000000000011" height="7.5" fill="#050505" stroke="#111" stroke-width="1"/>
<rect x="475.2" y="298.25" width="4.699999999999989" height="6.0" fill="#050505" stroke="#111" stroke-width="1"/>
<rect x="482.4" y="298.5" width="4.800000000000011" height="5.75" fill="#050505" stroke="#111" stroke-width="1"/>
<rect x="494.5" y="303.0" width="3.6000000000000227" height="1.25" fill="#fff" stroke="#111" stroke-width="1"/>
<rect x="501.2" y="302.625" width="4.699999999999989" height="1.625" fill="#fff" stroke="#111" stroke-width="1"/>
<rect x="508.6" y="297.625" width="4.899999999999977" height="6.625" fill="#fff" stroke="#111" stroke-width="1"/>
<text transform="translate(407.8 319.15) scale(0.86 1)" font-size="9.9" text-anchor="middle" fill="#111" stroke="#111" stroke-width="0.2" >0</text>
<text transform="translate(414.95 319.15) scale(0.86 1)" font-size="9.9" text-anchor="middle" fill="#111" stroke="#111" stroke-width="0.2" >2</text>
<text transform="translate(422.09999999999997 319.15) scale(0.86 1)" font-size="9.9" text-anchor="middle" fill="#111" stroke="#111" stroke-width="0.2" >5</text>
<text transform="translate(434.8 319.15) scale(0.86 1)" font-size="9.9" text-anchor="middle" fill="#111" stroke="#111" stroke-width="0.2" >0</text>
<text transform="translate(441.95 319.15) scale(0.86 1)" font-size="9.9" text-anchor="middle" fill="#111" stroke="#111" stroke-width="0.2" >2</text>
<text transform="translate(449.09999999999997 319.15) scale(0.86 1)" font-size="9.9" text-anchor="middle" fill="#111" stroke="#111" stroke-width="0.2" >5</text>
<text transform="translate(470.1 319.15) scale(0.86 1)" font-size="9.9" text-anchor="middle" fill="#111" stroke="#111" stroke-width="0.2" >0</text>
<text transform="translate(477.25 319.15) scale(0.86 1)" font-size="9.9" text-anchor="middle" fill="#111" stroke="#111" stroke-width="0.2" >2</text>
<text transform="translate(484.4 319.15) scale(0.86 1)" font-size="9.9" text-anchor="middle" fill="#111" stroke="#111" stroke-width="0.2" >5</text>
<text transform="translate(496.6 319.15) scale(0.86 1)" font-size="9.9" text-anchor="middle" fill="#111" stroke="#111" stroke-width="0.2" >0</text>
<text transform="translate(503.75 319.15) scale(0.86 1)" font-size="9.9" text-anchor="middle" fill="#111" stroke="#111" stroke-width="0.2" >2</text>
<text transform="translate(510.9 319.15) scale(0.86 1)" font-size="9.9" text-anchor="middle" fill="#111" stroke="#111" stroke-width="0.2" >5</text>
<text transform="translate(366.3 318.95) scale(0.97 1)" font-size="9.8" text-anchor="start" fill="#111" stroke="#111" stroke-width="0.28" >LPS (h)</text>
<line x1="403.6" y1="325.55" x2="427.8" y2="325.55" stroke="#111" stroke-width="1.3"/>
<text transform="translate(415.70000000000005 337.05)" font-size="9.5" text-anchor="middle" fill="#111" stroke="#111" stroke-width="0.28" >pre</text>
<text transform="translate(417.20000000000005 348.25)" font-size="9.5" text-anchor="middle" fill="#111" stroke="#111" stroke-width="0.28" >anakinra</text>
<line x1="466.3" y1="325.55" x2="490.5" y2="325.55" stroke="#111" stroke-width="1.3"/>
<text transform="translate(478.4 337.05)" font-size="9.5" text-anchor="middle" fill="#111" stroke="#111" stroke-width="0.28" >post</text>
<text transform="translate(479.9 348.25)" font-size="9.5" text-anchor="middle" fill="#111" stroke="#111" stroke-width="0.28" >anakinra</text>
</svg>
</body></html>
